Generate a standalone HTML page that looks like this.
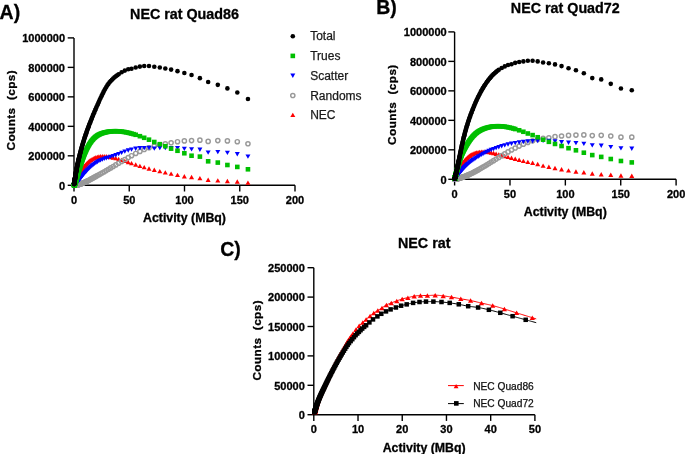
<!DOCTYPE html>
<html><head><meta charset="utf-8"><style>
html,body{margin:0;padding:0;background:#fff;width:685px;height:454px;overflow:hidden}
.w{will-change:transform;width:685px;height:454px}
svg{display:block;filter:blur(0.3px)}
</style></head><body><div class="w">
<svg width="685" height="454" viewBox="0 0 685 454" font-family='"Liberation Sans", sans-serif'>
<rect width="685" height="454" fill="#fff"/>
<text x="-0.4" y="19.4" font-size="19.5" font-weight="bold" text-anchor="start" fill="#000" stroke="#000" stroke-width="0.3" >A)</text>
<text x="184.5" y="18.8" font-size="14.3" font-weight="bold" text-anchor="middle" fill="#000" stroke="#000" stroke-width="0.3" >NEC rat Quad86</text>
<path d="M74 37.9V185.3H295" fill="none" stroke="#000" stroke-width="1.4"/>
<path d="M67.7 185.3H74" stroke="#000" stroke-width="1.4"/>
<text x="65" y="189.6" font-size="11" font-weight="bold" text-anchor="end" fill="#000" stroke="#000" stroke-width="0.3" >0</text>
<path d="M67.7 155.82H74" stroke="#000" stroke-width="1.4"/>
<text x="65" y="160.12" font-size="11" font-weight="bold" text-anchor="end" fill="#000" stroke="#000" stroke-width="0.3" >200000</text>
<path d="M67.7 126.34H74" stroke="#000" stroke-width="1.4"/>
<text x="65" y="130.64" font-size="11" font-weight="bold" text-anchor="end" fill="#000" stroke="#000" stroke-width="0.3" >400000</text>
<path d="M67.7 96.86H74" stroke="#000" stroke-width="1.4"/>
<text x="65" y="101.16" font-size="11" font-weight="bold" text-anchor="end" fill="#000" stroke="#000" stroke-width="0.3" >600000</text>
<path d="M67.7 67.38H74" stroke="#000" stroke-width="1.4"/>
<text x="65" y="71.68" font-size="11" font-weight="bold" text-anchor="end" fill="#000" stroke="#000" stroke-width="0.3" >800000</text>
<path d="M67.7 37.9H74" stroke="#000" stroke-width="1.4"/>
<text x="65" y="42.2" font-size="11" font-weight="bold" text-anchor="end" fill="#000" stroke="#000" stroke-width="0.3" >1000000</text>
<path d="M74 185.3V191.5" stroke="#000" stroke-width="1.4"/>
<text x="74" y="203.7" font-size="11" font-weight="bold" text-anchor="middle" fill="#000" stroke="#000" stroke-width="0.3" >0</text>
<path d="M129.25 185.3V191.5" stroke="#000" stroke-width="1.4"/>
<text x="129.25" y="203.7" font-size="11" font-weight="bold" text-anchor="middle" fill="#000" stroke="#000" stroke-width="0.3" >50</text>
<path d="M184.5 185.3V191.5" stroke="#000" stroke-width="1.4"/>
<text x="184.5" y="203.7" font-size="11" font-weight="bold" text-anchor="middle" fill="#000" stroke="#000" stroke-width="0.3" >100</text>
<path d="M239.75 185.3V191.5" stroke="#000" stroke-width="1.4"/>
<text x="239.75" y="203.7" font-size="11" font-weight="bold" text-anchor="middle" fill="#000" stroke="#000" stroke-width="0.3" >150</text>
<path d="M295 185.3V191.5" stroke="#000" stroke-width="1.4"/>
<text x="295" y="203.7" font-size="11" font-weight="bold" text-anchor="middle" fill="#000" stroke="#000" stroke-width="0.3" >200</text>
<text x="184.5" y="221.7" font-size="12.35" font-weight="bold" text-anchor="middle" fill="#000" stroke="#000" stroke-width="0.3" >Activity (MBq)</text>
<text transform="translate(15.2 110.2) rotate(-90)" font-size="11.8" letter-spacing="0.4" font-weight="bold" text-anchor="middle" stroke="#000" stroke-width="0.3" xml:space="preserve">Counts  (cps)</text>
<path d="M245.45 184.79L250.45 184.79L247.95 180.39Z" fill="#ff0000"/>
<path d="M234.8 183.71L239.8 183.71L237.3 179.31Z" fill="#ff0000"/>
<path d="M224.9 183.2L229.9 183.2L227.4 178.8Z" fill="#ff0000"/>
<path d="M215.3 182.59L220.3 182.59L217.8 178.19Z" fill="#ff0000"/>
<path d="M205.65 181.91L210.65 181.91L208.15 177.51Z" fill="#ff0000"/>
<path d="M197.4 180.32L202.4 180.32L199.9 175.92Z" fill="#ff0000"/>
<path d="M189.05 179.22L194.05 179.22L191.55 174.82Z" fill="#ff0000"/>
<path d="M181.85 178.42L186.85 178.42L184.35 174.02Z" fill="#ff0000"/>
<path d="M175 177.08L180 177.08L177.5 172.68Z" fill="#ff0000"/>
<path d="M168.6 175.82L173.6 175.82L171.1 171.42Z" fill="#ff0000"/>
<path d="M162.8 174.6L167.8 174.6L165.3 170.2Z" fill="#ff0000"/>
<path d="M157.3 173.35L162.3 173.35L159.8 168.95Z" fill="#ff0000"/>
<path d="M151.8 172L156.8 172L154.3 167.6Z" fill="#ff0000"/>
<path d="M146.5 170.66L151.5 170.66L149 166.26Z" fill="#ff0000"/>
<path d="M141.7 169.35L146.7 169.35L144.2 164.95Z" fill="#ff0000"/>
<path d="M137.4 168.09L142.4 168.09L139.9 163.69Z" fill="#ff0000"/>
<path d="M133.2 166.77L138.2 166.77L135.7 162.37Z" fill="#ff0000"/>
<path d="M129 165.36L134 165.36L131.5 160.96Z" fill="#ff0000"/>
<path d="M125.72 164.23L130.72 164.23L128.22 159.83Z" fill="#ff0000"/>
<path d="M122.31 163.08L127.31 163.08L124.81 158.68Z" fill="#ff0000"/>
<path d="M119.12 162.04L124.12 162.04L121.62 157.64Z" fill="#ff0000"/>
<path d="M116.13 161.13L121.13 161.13L118.63 156.73Z" fill="#ff0000"/>
<path d="M113.33 160.35L118.33 160.35L115.83 155.95Z" fill="#ff0000"/>
<path d="M110.7 159.7L115.7 159.7L113.2 155.3Z" fill="#ff0000"/>
<path d="M108.24 159.18L113.24 159.18L110.74 154.78Z" fill="#ff0000"/>
<path d="M105.94 158.78L110.94 158.78L108.44 154.38Z" fill="#ff0000"/>
<path d="M103.77 158.51L108.77 158.51L106.27 154.11Z" fill="#ff0000"/>
<path d="M101.75 158.36L106.75 158.36L104.25 153.96Z" fill="#ff0000"/>
<path d="M99.85 158.34L104.85 158.34L102.35 153.94Z" fill="#ff0000"/>
<path d="M98.07 158.46L103.07 158.46L100.57 154.06Z" fill="#ff0000"/>
<path d="M96.4 158.69L101.4 158.69L98.9 154.29Z" fill="#ff0000"/>
<path d="M94.84 159.04L99.84 159.04L97.34 154.64Z" fill="#ff0000"/>
<path d="M93.37 159.5L98.37 159.5L95.87 155.1Z" fill="#ff0000"/>
<path d="M92 160.04L97 160.04L94.5 155.64Z" fill="#ff0000"/>
<path d="M90.71 160.66L95.71 160.66L93.21 156.26Z" fill="#ff0000"/>
<path d="M89.5 161.35L94.5 161.35L92 156.95Z" fill="#ff0000"/>
<path d="M88.37 162.09L93.37 162.09L90.87 157.69Z" fill="#ff0000"/>
<path d="M87.31 162.87L92.31 162.87L89.81 158.47Z" fill="#ff0000"/>
<path d="M86.32 163.69L91.32 163.69L88.82 159.29Z" fill="#ff0000"/>
<path d="M85.39 164.53L90.39 164.53L87.89 160.13Z" fill="#ff0000"/>
<path d="M84.52 165.38L89.52 165.38L87.02 160.98Z" fill="#ff0000"/>
<path d="M83.7 166.25L88.7 166.25L86.2 161.85Z" fill="#ff0000"/>
<path d="M82.93 167.11L87.93 167.11L85.43 162.71Z" fill="#ff0000"/>
<path d="M82.22 167.97L87.22 167.97L84.72 163.57Z" fill="#ff0000"/>
<path d="M81.54 168.83L86.54 168.83L84.04 164.43Z" fill="#ff0000"/>
<path d="M80.91 169.67L85.91 169.67L83.41 165.27Z" fill="#ff0000"/>
<path d="M80.32 170.49L85.32 170.49L82.82 166.09Z" fill="#ff0000"/>
<path d="M79.77 171.3L84.77 171.3L82.27 166.9Z" fill="#ff0000"/>
<path d="M79.25 172.09L84.25 172.09L81.75 167.69Z" fill="#ff0000"/>
<path d="M78.76 172.85L83.76 172.85L81.26 168.45Z" fill="#ff0000"/>
<path d="M78.31 173.59L83.31 173.59L80.81 169.19Z" fill="#ff0000"/>
<path d="M77.88 174.3L82.88 174.3L80.38 169.9Z" fill="#ff0000"/>
<path d="M77.48 174.98L82.48 174.98L79.98 170.58Z" fill="#ff0000"/>
<path d="M77.1 175.64L82.1 175.64L79.6 171.24Z" fill="#ff0000"/>
<path d="M76.75 176.28L81.75 176.28L79.25 171.88Z" fill="#ff0000"/>
<path d="M76.42 176.88L81.42 176.88L78.92 172.48Z" fill="#ff0000"/>
<path d="M76.11 177.46L81.11 177.46L78.61 173.06Z" fill="#ff0000"/>
<path d="M75.82 178.01L80.82 178.01L78.32 173.61Z" fill="#ff0000"/>
<path d="M75.55 178.54L80.55 178.54L78.05 174.14Z" fill="#ff0000"/>
<path d="M75.3 179.04L80.3 179.04L77.8 174.64Z" fill="#ff0000"/>
<path d="M75.06 179.52L80.06 179.52L77.56 175.12Z" fill="#ff0000"/>
<path d="M74.84 179.98L79.84 179.98L77.34 175.58Z" fill="#ff0000"/>
<path d="M74.63 180.41L79.63 180.41L77.13 176.01Z" fill="#ff0000"/>
<path d="M74.43 180.82L79.43 180.82L76.93 176.42Z" fill="#ff0000"/>
<path d="M74.25 181.2L79.25 181.2L76.75 176.8Z" fill="#ff0000"/>
<path d="M74.07 181.57L79.07 181.57L76.57 177.17Z" fill="#ff0000"/>
<path d="M73.91 181.92L78.91 181.92L76.41 177.52Z" fill="#ff0000"/>
<path d="M73.76 182.25L78.76 182.25L76.26 177.85Z" fill="#ff0000"/>
<path d="M73.62 182.56L78.62 182.56L76.12 178.16Z" fill="#ff0000"/>
<path d="M73.49 182.85L78.49 182.85L75.99 178.45Z" fill="#ff0000"/>
<path d="M73.36 183.13L78.36 183.13L75.86 178.73Z" fill="#ff0000"/>
<path d="M73.24 183.39L78.24 183.39L75.74 178.99Z" fill="#ff0000"/>
<path d="M73.13 183.64L78.13 183.64L75.63 179.24Z" fill="#ff0000"/>
<path d="M73.03 183.87L78.03 183.87L75.53 179.47Z" fill="#ff0000"/>
<path d="M72.94 184.09L77.94 184.09L75.44 179.69Z" fill="#ff0000"/>
<path d="M72.85 184.29L77.85 184.29L75.35 179.89Z" fill="#ff0000"/>
<path d="M72.76 184.49L77.76 184.49L75.26 180.09Z" fill="#ff0000"/>
<path d="M72.68 184.67L77.68 184.67L75.18 180.27Z" fill="#ff0000"/>
<path d="M72.61 184.84L77.61 184.84L75.11 180.44Z" fill="#ff0000"/>
<path d="M72.54 185.01L77.54 185.01L75.04 180.61Z" fill="#ff0000"/>
<path d="M72.47 185.16L77.47 185.16L74.97 180.76Z" fill="#ff0000"/>
<path d="M72.41 185.3L77.41 185.3L74.91 180.9Z" fill="#ff0000"/>
<path d="M72.35 185.44L77.35 185.44L74.85 181.04Z" fill="#ff0000"/>
<path d="M72.3 185.56L77.3 185.56L74.8 181.16Z" fill="#ff0000"/>
<path d="M72.25 185.68L77.25 185.68L74.75 181.28Z" fill="#ff0000"/>
<path d="M72.2 185.79L77.2 185.79L74.7 181.39Z" fill="#ff0000"/>
<path d="M72.16 185.9L77.16 185.9L74.66 181.5Z" fill="#ff0000"/>
<path d="M72.12 186L77.12 186L74.62 181.6Z" fill="#ff0000"/>
<path d="M72.08 186.09L77.08 186.09L74.58 181.69Z" fill="#ff0000"/>
<path d="M72.04 186.18L77.04 186.18L74.54 181.78Z" fill="#ff0000"/>
<path d="M72.01 186.26L77.01 186.26L74.51 181.86Z" fill="#ff0000"/>
<path d="M71.98 186.34L76.98 186.34L74.48 181.94Z" fill="#ff0000"/>
<path d="M71.95 186.41L76.95 186.41L74.45 182.01Z" fill="#ff0000"/>
<path d="M71.92 186.48L76.92 186.48L74.42 182.08Z" fill="#ff0000"/>
<path d="M71.89 186.54L76.89 186.54L74.39 182.14Z" fill="#ff0000"/>
<path d="M71.87 186.6L76.87 186.6L74.37 182.2Z" fill="#ff0000"/>
<path d="M71.84 186.66L76.84 186.66L74.34 182.26Z" fill="#ff0000"/>
<path d="M71.82 186.71L76.82 186.71L74.32 182.31Z" fill="#ff0000"/>
<path d="M71.8 186.76L76.8 186.76L74.3 182.36Z" fill="#ff0000"/>
<path d="M71.78 186.8L76.78 186.8L74.28 182.4Z" fill="#ff0000"/>
<path d="M71.77 186.85L76.77 186.85L74.27 182.45Z" fill="#ff0000"/>
<path d="M71.75 186.89L76.75 186.89L74.25 182.49Z" fill="#ff0000"/>
<path d="M71.73 186.93L76.73 186.93L74.23 182.53Z" fill="#ff0000"/>
<path d="M71.72 186.96L76.72 186.96L74.22 182.56Z" fill="#ff0000"/>
<path d="M71.71 186.99L76.71 186.99L74.21 182.59Z" fill="#ff0000"/>
<path d="M71.69 187.03L76.69 187.03L74.19 182.63Z" fill="#ff0000"/>
<path d="M71.68 187.06L76.68 187.06L74.18 182.66Z" fill="#ff0000"/>
<path d="M71.67 187.08L76.67 187.08L74.17 182.68Z" fill="#ff0000"/>
<circle cx="247.95" cy="143.79" r="2.1" fill="none" stroke="#999" stroke-width="1.45"/>
<circle cx="237.3" cy="141.71" r="2.1" fill="none" stroke="#999" stroke-width="1.45"/>
<circle cx="227.4" cy="140.9" r="2.1" fill="none" stroke="#999" stroke-width="1.45"/>
<circle cx="217.8" cy="140.6" r="2.1" fill="none" stroke="#999" stroke-width="1.45"/>
<circle cx="208.15" cy="141.4" r="2.1" fill="none" stroke="#999" stroke-width="1.45"/>
<circle cx="199.9" cy="140.2" r="2.1" fill="none" stroke="#999" stroke-width="1.45"/>
<circle cx="191.55" cy="140.59" r="2.1" fill="none" stroke="#999" stroke-width="1.45"/>
<circle cx="184.35" cy="140.89" r="2.1" fill="none" stroke="#999" stroke-width="1.45"/>
<circle cx="177.5" cy="141.71" r="2.1" fill="none" stroke="#999" stroke-width="1.45"/>
<circle cx="171.1" cy="142.78" r="2.1" fill="none" stroke="#999" stroke-width="1.45"/>
<circle cx="165.3" cy="143.8" r="2.1" fill="none" stroke="#999" stroke-width="1.45"/>
<circle cx="159.8" cy="144.78" r="2.1" fill="none" stroke="#999" stroke-width="1.45"/>
<circle cx="154.3" cy="146.15" r="2.1" fill="none" stroke="#999" stroke-width="1.45"/>
<circle cx="149" cy="147.76" r="2.1" fill="none" stroke="#999" stroke-width="1.45"/>
<circle cx="144.2" cy="149.54" r="2.1" fill="none" stroke="#999" stroke-width="1.45"/>
<circle cx="139.9" cy="151.42" r="2.1" fill="none" stroke="#999" stroke-width="1.45"/>
<circle cx="135.7" cy="153.48" r="2.1" fill="none" stroke="#999" stroke-width="1.45"/>
<circle cx="131.5" cy="155.71" r="2.1" fill="none" stroke="#999" stroke-width="1.45"/>
<circle cx="128.22" cy="157.55" r="2.1" fill="none" stroke="#999" stroke-width="1.45"/>
<circle cx="124.81" cy="159.53" r="2.1" fill="none" stroke="#999" stroke-width="1.45"/>
<circle cx="121.62" cy="161.42" r="2.1" fill="none" stroke="#999" stroke-width="1.45"/>
<circle cx="118.63" cy="163.21" r="2.1" fill="none" stroke="#999" stroke-width="1.45"/>
<circle cx="115.83" cy="164.89" r="2.1" fill="none" stroke="#999" stroke-width="1.45"/>
<circle cx="113.2" cy="166.46" r="2.1" fill="none" stroke="#999" stroke-width="1.45"/>
<circle cx="110.74" cy="167.92" r="2.1" fill="none" stroke="#999" stroke-width="1.45"/>
<circle cx="108.44" cy="169.28" r="2.1" fill="none" stroke="#999" stroke-width="1.45"/>
<circle cx="106.27" cy="170.54" r="2.1" fill="none" stroke="#999" stroke-width="1.45"/>
<circle cx="104.25" cy="171.71" r="2.1" fill="none" stroke="#999" stroke-width="1.45"/>
<circle cx="102.35" cy="172.79" r="2.1" fill="none" stroke="#999" stroke-width="1.45"/>
<circle cx="100.57" cy="173.8" r="2.1" fill="none" stroke="#999" stroke-width="1.45"/>
<circle cx="98.9" cy="174.74" r="2.1" fill="none" stroke="#999" stroke-width="1.45"/>
<circle cx="97.34" cy="175.61" r="2.1" fill="none" stroke="#999" stroke-width="1.45"/>
<circle cx="95.87" cy="176.42" r="2.1" fill="none" stroke="#999" stroke-width="1.45"/>
<circle cx="94.5" cy="177.18" r="2.1" fill="none" stroke="#999" stroke-width="1.45"/>
<circle cx="93.21" cy="177.88" r="2.1" fill="none" stroke="#999" stroke-width="1.45"/>
<circle cx="92" cy="178.54" r="2.1" fill="none" stroke="#999" stroke-width="1.45"/>
<circle cx="90.87" cy="179.15" r="2.1" fill="none" stroke="#999" stroke-width="1.45"/>
<circle cx="89.81" cy="179.72" r="2.1" fill="none" stroke="#999" stroke-width="1.45"/>
<circle cx="88.82" cy="180.24" r="2.1" fill="none" stroke="#999" stroke-width="1.45"/>
<circle cx="87.89" cy="180.72" r="2.1" fill="none" stroke="#999" stroke-width="1.45"/>
<circle cx="87.02" cy="181.17" r="2.1" fill="none" stroke="#999" stroke-width="1.45"/>
<circle cx="86.2" cy="181.57" r="2.1" fill="none" stroke="#999" stroke-width="1.45"/>
<circle cx="85.43" cy="181.94" r="2.1" fill="none" stroke="#999" stroke-width="1.45"/>
<circle cx="84.72" cy="182.28" r="2.1" fill="none" stroke="#999" stroke-width="1.45"/>
<circle cx="84.04" cy="182.58" r="2.1" fill="none" stroke="#999" stroke-width="1.45"/>
<circle cx="83.41" cy="182.86" r="2.1" fill="none" stroke="#999" stroke-width="1.45"/>
<circle cx="82.82" cy="183.1" r="2.1" fill="none" stroke="#999" stroke-width="1.45"/>
<circle cx="82.27" cy="183.33" r="2.1" fill="none" stroke="#999" stroke-width="1.45"/>
<circle cx="81.75" cy="183.53" r="2.1" fill="none" stroke="#999" stroke-width="1.45"/>
<circle cx="81.26" cy="183.71" r="2.1" fill="none" stroke="#999" stroke-width="1.45"/>
<circle cx="80.81" cy="183.87" r="2.1" fill="none" stroke="#999" stroke-width="1.45"/>
<circle cx="80.38" cy="184.02" r="2.1" fill="none" stroke="#999" stroke-width="1.45"/>
<circle cx="79.98" cy="184.15" r="2.1" fill="none" stroke="#999" stroke-width="1.45"/>
<circle cx="79.6" cy="184.27" r="2.1" fill="none" stroke="#999" stroke-width="1.45"/>
<circle cx="79.25" cy="184.37" r="2.1" fill="none" stroke="#999" stroke-width="1.45"/>
<circle cx="78.92" cy="184.47" r="2.1" fill="none" stroke="#999" stroke-width="1.45"/>
<circle cx="78.61" cy="184.55" r="2.1" fill="none" stroke="#999" stroke-width="1.45"/>
<circle cx="78.32" cy="184.63" r="2.1" fill="none" stroke="#999" stroke-width="1.45"/>
<circle cx="78.05" cy="184.7" r="2.1" fill="none" stroke="#999" stroke-width="1.45"/>
<circle cx="77.8" cy="184.76" r="2.1" fill="none" stroke="#999" stroke-width="1.45"/>
<circle cx="77.56" cy="184.81" r="2.1" fill="none" stroke="#999" stroke-width="1.45"/>
<circle cx="77.34" cy="184.86" r="2.1" fill="none" stroke="#999" stroke-width="1.45"/>
<circle cx="77.13" cy="184.9" r="2.1" fill="none" stroke="#999" stroke-width="1.45"/>
<circle cx="76.93" cy="184.94" r="2.1" fill="none" stroke="#999" stroke-width="1.45"/>
<circle cx="76.75" cy="184.98" r="2.1" fill="none" stroke="#999" stroke-width="1.45"/>
<circle cx="76.57" cy="185.01" r="2.1" fill="none" stroke="#999" stroke-width="1.45"/>
<circle cx="76.41" cy="185.04" r="2.1" fill="none" stroke="#999" stroke-width="1.45"/>
<circle cx="76.26" cy="185.06" r="2.1" fill="none" stroke="#999" stroke-width="1.45"/>
<circle cx="76.12" cy="185.08" r="2.1" fill="none" stroke="#999" stroke-width="1.45"/>
<circle cx="75.99" cy="185.1" r="2.1" fill="none" stroke="#999" stroke-width="1.45"/>
<circle cx="75.86" cy="185.12" r="2.1" fill="none" stroke="#999" stroke-width="1.45"/>
<circle cx="75.74" cy="185.14" r="2.1" fill="none" stroke="#999" stroke-width="1.45"/>
<circle cx="75.63" cy="185.15" r="2.1" fill="none" stroke="#999" stroke-width="1.45"/>
<circle cx="75.53" cy="185.17" r="2.1" fill="none" stroke="#999" stroke-width="1.45"/>
<circle cx="75.44" cy="185.18" r="2.1" fill="none" stroke="#999" stroke-width="1.45"/>
<circle cx="75.35" cy="185.19" r="2.1" fill="none" stroke="#999" stroke-width="1.45"/>
<circle cx="75.26" cy="185.2" r="2.1" fill="none" stroke="#999" stroke-width="1.45"/>
<circle cx="75.18" cy="185.21" r="2.1" fill="none" stroke="#999" stroke-width="1.45"/>
<circle cx="75.11" cy="185.22" r="2.1" fill="none" stroke="#999" stroke-width="1.45"/>
<circle cx="75.04" cy="185.22" r="2.1" fill="none" stroke="#999" stroke-width="1.45"/>
<circle cx="74.97" cy="185.23" r="2.1" fill="none" stroke="#999" stroke-width="1.45"/>
<circle cx="74.91" cy="185.24" r="2.1" fill="none" stroke="#999" stroke-width="1.45"/>
<circle cx="74.85" cy="185.24" r="2.1" fill="none" stroke="#999" stroke-width="1.45"/>
<circle cx="74.8" cy="185.25" r="2.1" fill="none" stroke="#999" stroke-width="1.45"/>
<circle cx="74.75" cy="185.25" r="2.1" fill="none" stroke="#999" stroke-width="1.45"/>
<circle cx="74.7" cy="185.25" r="2.1" fill="none" stroke="#999" stroke-width="1.45"/>
<circle cx="74.66" cy="185.26" r="2.1" fill="none" stroke="#999" stroke-width="1.45"/>
<circle cx="74.62" cy="185.26" r="2.1" fill="none" stroke="#999" stroke-width="1.45"/>
<circle cx="74.58" cy="185.26" r="2.1" fill="none" stroke="#999" stroke-width="1.45"/>
<circle cx="74.54" cy="185.27" r="2.1" fill="none" stroke="#999" stroke-width="1.45"/>
<circle cx="74.51" cy="185.27" r="2.1" fill="none" stroke="#999" stroke-width="1.45"/>
<circle cx="74.48" cy="185.27" r="2.1" fill="none" stroke="#999" stroke-width="1.45"/>
<circle cx="74.45" cy="185.27" r="2.1" fill="none" stroke="#999" stroke-width="1.45"/>
<circle cx="74.42" cy="185.28" r="2.1" fill="none" stroke="#999" stroke-width="1.45"/>
<circle cx="74.39" cy="185.28" r="2.1" fill="none" stroke="#999" stroke-width="1.45"/>
<circle cx="74.37" cy="185.28" r="2.1" fill="none" stroke="#999" stroke-width="1.45"/>
<circle cx="74.34" cy="185.28" r="2.1" fill="none" stroke="#999" stroke-width="1.45"/>
<circle cx="74.32" cy="185.28" r="2.1" fill="none" stroke="#999" stroke-width="1.45"/>
<circle cx="74.3" cy="185.28" r="2.1" fill="none" stroke="#999" stroke-width="1.45"/>
<circle cx="74.28" cy="185.28" r="2.1" fill="none" stroke="#999" stroke-width="1.45"/>
<circle cx="74.27" cy="185.29" r="2.1" fill="none" stroke="#999" stroke-width="1.45"/>
<circle cx="74.25" cy="185.29" r="2.1" fill="none" stroke="#999" stroke-width="1.45"/>
<circle cx="74.23" cy="185.29" r="2.1" fill="none" stroke="#999" stroke-width="1.45"/>
<circle cx="74.22" cy="185.29" r="2.1" fill="none" stroke="#999" stroke-width="1.45"/>
<circle cx="74.21" cy="185.29" r="2.1" fill="none" stroke="#999" stroke-width="1.45"/>
<circle cx="74.19" cy="185.29" r="2.1" fill="none" stroke="#999" stroke-width="1.45"/>
<circle cx="74.18" cy="185.29" r="2.1" fill="none" stroke="#999" stroke-width="1.45"/>
<circle cx="74.17" cy="185.29" r="2.1" fill="none" stroke="#999" stroke-width="1.45"/>
<path d="M245.45 154.39L250.45 154.39L247.95 158.79Z" fill="#0000ff"/>
<path d="M234.8 152.02L239.8 152.02L237.3 156.42Z" fill="#0000ff"/>
<path d="M224.9 150.7L229.9 150.7L227.4 155.1Z" fill="#0000ff"/>
<path d="M215.3 149.9L220.3 149.9L217.8 154.3Z" fill="#0000ff"/>
<path d="M205.65 150.4L210.65 150.4L208.15 154.8Z" fill="#0000ff"/>
<path d="M197.4 147.51L202.4 147.51L199.9 151.91Z" fill="#0000ff"/>
<path d="M189.05 147.21L194.05 147.21L191.55 151.61Z" fill="#0000ff"/>
<path d="M181.85 146.71L186.85 146.71L184.35 151.11Z" fill="#0000ff"/>
<path d="M175 145.9L180 145.9L177.5 150.3Z" fill="#0000ff"/>
<path d="M168.6 145.9L173.6 145.9L171.1 150.3Z" fill="#0000ff"/>
<path d="M162.8 145.9L167.8 145.9L165.3 150.3Z" fill="#0000ff"/>
<path d="M157.3 145.9L162.3 145.9L159.8 150.3Z" fill="#0000ff"/>
<path d="M151.8 146.4L156.8 146.4L154.3 150.8Z" fill="#0000ff"/>
<path d="M146.5 145.87L151.5 145.87L149 150.27Z" fill="#0000ff"/>
<path d="M141.7 145.88L146.7 145.88L144.2 150.28Z" fill="#0000ff"/>
<path d="M137.4 146.12L142.4 146.12L139.9 150.52Z" fill="#0000ff"/>
<path d="M133.2 146.61L138.2 146.61L135.7 151.01Z" fill="#0000ff"/>
<path d="M129 147.42L134 147.42L131.5 151.82Z" fill="#0000ff"/>
<path d="M125.72 148.3L130.72 148.3L128.22 152.7Z" fill="#0000ff"/>
<path d="M122.31 149.46L127.31 149.46L124.81 153.86Z" fill="#0000ff"/>
<path d="M119.12 150.71L124.12 150.71L121.62 155.11Z" fill="#0000ff"/>
<path d="M116.13 151.92L121.13 151.92L118.63 156.32Z" fill="#0000ff"/>
<path d="M113.33 153.03L118.33 153.03L115.83 157.43Z" fill="#0000ff"/>
<path d="M110.7 153.96L115.7 153.96L113.2 158.36Z" fill="#0000ff"/>
<path d="M108.24 154.72L113.24 154.72L110.74 159.12Z" fill="#0000ff"/>
<path d="M105.94 155.4L110.94 155.4L108.44 159.8Z" fill="#0000ff"/>
<path d="M103.77 156.06L108.77 156.06L106.27 160.46Z" fill="#0000ff"/>
<path d="M101.75 156.72L106.75 156.72L104.25 161.12Z" fill="#0000ff"/>
<path d="M99.85 157.41L104.85 157.41L102.35 161.81Z" fill="#0000ff"/>
<path d="M98.07 158.16L103.07 158.16L100.57 162.56Z" fill="#0000ff"/>
<path d="M96.4 158.96L101.4 158.96L98.9 163.36Z" fill="#0000ff"/>
<path d="M94.84 159.82L99.84 159.82L97.34 164.22Z" fill="#0000ff"/>
<path d="M93.37 160.73L98.37 160.73L95.87 165.13Z" fill="#0000ff"/>
<path d="M92 161.68L97 161.68L94.5 166.08Z" fill="#0000ff"/>
<path d="M90.71 162.64L95.71 162.64L93.21 167.04Z" fill="#0000ff"/>
<path d="M89.5 163.62L94.5 163.62L92 168.02Z" fill="#0000ff"/>
<path d="M88.37 164.59L93.37 164.59L90.87 168.99Z" fill="#0000ff"/>
<path d="M87.31 165.55L92.31 165.55L89.81 169.95Z" fill="#0000ff"/>
<path d="M86.32 166.5L91.32 166.5L88.82 170.9Z" fill="#0000ff"/>
<path d="M85.39 167.44L90.39 167.44L87.89 171.84Z" fill="#0000ff"/>
<path d="M84.52 168.35L89.52 168.35L87.02 172.75Z" fill="#0000ff"/>
<path d="M83.7 169.23L88.7 169.23L86.2 173.63Z" fill="#0000ff"/>
<path d="M82.93 170.08L87.93 170.08L85.43 174.48Z" fill="#0000ff"/>
<path d="M82.22 170.91L87.22 170.91L84.72 175.31Z" fill="#0000ff"/>
<path d="M81.54 171.7L86.54 171.7L84.04 176.1Z" fill="#0000ff"/>
<path d="M80.91 172.46L85.91 172.46L83.41 176.86Z" fill="#0000ff"/>
<path d="M80.32 173.19L85.32 173.19L82.82 177.59Z" fill="#0000ff"/>
<path d="M79.77 173.88L84.77 173.88L82.27 178.28Z" fill="#0000ff"/>
<path d="M79.25 174.53L84.25 174.53L81.75 178.93Z" fill="#0000ff"/>
<path d="M78.76 175.14L83.76 175.14L81.26 179.54Z" fill="#0000ff"/>
<path d="M78.31 175.71L83.31 175.71L80.81 180.11Z" fill="#0000ff"/>
<path d="M77.88 176.24L82.88 176.24L80.38 180.64Z" fill="#0000ff"/>
<path d="M77.48 176.74L82.48 176.74L79.98 181.14Z" fill="#0000ff"/>
<path d="M77.1 177.2L82.1 177.2L79.6 181.6Z" fill="#0000ff"/>
<path d="M76.75 177.63L81.75 177.63L79.25 182.03Z" fill="#0000ff"/>
<path d="M76.42 178.03L81.42 178.03L78.92 182.43Z" fill="#0000ff"/>
<path d="M76.11 178.4L81.11 178.4L78.61 182.8Z" fill="#0000ff"/>
<path d="M75.82 178.74L80.82 178.74L78.32 183.14Z" fill="#0000ff"/>
<path d="M75.55 179.06L80.55 179.06L78.05 183.46Z" fill="#0000ff"/>
<path d="M75.3 179.35L80.3 179.35L77.8 183.75Z" fill="#0000ff"/>
<path d="M75.06 179.63L80.06 179.63L77.56 184.03Z" fill="#0000ff"/>
<path d="M74.84 179.88L79.84 179.88L77.34 184.28Z" fill="#0000ff"/>
<path d="M74.63 180.11L79.63 180.11L77.13 184.51Z" fill="#0000ff"/>
<path d="M74.43 180.32L79.43 180.32L76.93 184.72Z" fill="#0000ff"/>
<path d="M74.25 180.52L79.25 180.52L76.75 184.92Z" fill="#0000ff"/>
<path d="M74.07 180.7L79.07 180.7L76.57 185.1Z" fill="#0000ff"/>
<path d="M73.91 180.87L78.91 180.87L76.41 185.27Z" fill="#0000ff"/>
<path d="M73.76 181.03L78.76 181.03L76.26 185.43Z" fill="#0000ff"/>
<path d="M73.62 181.18L78.62 181.18L76.12 185.58Z" fill="#0000ff"/>
<path d="M73.49 181.31L78.49 181.31L75.99 185.71Z" fill="#0000ff"/>
<path d="M73.36 181.43L78.36 181.43L75.86 185.83Z" fill="#0000ff"/>
<path d="M73.24 181.55L78.24 181.55L75.74 185.95Z" fill="#0000ff"/>
<path d="M73.13 181.66L78.13 181.66L75.63 186.06Z" fill="#0000ff"/>
<path d="M73.03 181.76L78.03 181.76L75.53 186.16Z" fill="#0000ff"/>
<path d="M72.94 181.85L77.94 181.85L75.44 186.25Z" fill="#0000ff"/>
<path d="M72.85 181.93L77.85 181.93L75.35 186.33Z" fill="#0000ff"/>
<path d="M72.76 182.01L77.76 182.01L75.26 186.41Z" fill="#0000ff"/>
<path d="M72.68 182.09L77.68 182.09L75.18 186.49Z" fill="#0000ff"/>
<path d="M72.61 182.15L77.61 182.15L75.11 186.55Z" fill="#0000ff"/>
<path d="M72.54 182.22L77.54 182.22L75.04 186.62Z" fill="#0000ff"/>
<path d="M72.47 182.28L77.47 182.28L74.97 186.68Z" fill="#0000ff"/>
<path d="M72.41 182.33L77.41 182.33L74.91 186.73Z" fill="#0000ff"/>
<path d="M72.35 182.38L77.35 182.38L74.85 186.78Z" fill="#0000ff"/>
<path d="M72.3 182.43L77.3 182.43L74.8 186.83Z" fill="#0000ff"/>
<path d="M72.25 182.48L77.25 182.48L74.75 186.88Z" fill="#0000ff"/>
<path d="M72.2 182.52L77.2 182.52L74.7 186.92Z" fill="#0000ff"/>
<path d="M72.16 182.55L77.16 182.55L74.66 186.95Z" fill="#0000ff"/>
<path d="M72.12 182.59L77.12 182.59L74.62 186.99Z" fill="#0000ff"/>
<path d="M72.08 182.62L77.08 182.62L74.58 187.02Z" fill="#0000ff"/>
<path d="M72.04 182.66L77.04 182.66L74.54 187.06Z" fill="#0000ff"/>
<path d="M72.01 182.68L77.01 182.68L74.51 187.08Z" fill="#0000ff"/>
<path d="M71.98 182.71L76.98 182.71L74.48 187.11Z" fill="#0000ff"/>
<path d="M71.95 182.74L76.95 182.74L74.45 187.14Z" fill="#0000ff"/>
<path d="M71.92 182.76L76.92 182.76L74.42 187.16Z" fill="#0000ff"/>
<path d="M71.89 182.78L76.89 182.78L74.39 187.18Z" fill="#0000ff"/>
<path d="M71.87 182.8L76.87 182.8L74.37 187.2Z" fill="#0000ff"/>
<path d="M71.84 182.82L76.84 182.82L74.34 187.22Z" fill="#0000ff"/>
<path d="M71.82 182.84L76.82 182.84L74.32 187.24Z" fill="#0000ff"/>
<path d="M71.8 182.86L76.8 182.86L74.3 187.26Z" fill="#0000ff"/>
<path d="M71.78 182.87L76.78 182.87L74.28 187.27Z" fill="#0000ff"/>
<path d="M71.77 182.89L76.77 182.89L74.27 187.29Z" fill="#0000ff"/>
<path d="M71.75 182.9L76.75 182.9L74.25 187.3Z" fill="#0000ff"/>
<path d="M71.73 182.91L76.73 182.91L74.23 187.31Z" fill="#0000ff"/>
<path d="M71.72 182.93L76.72 182.93L74.22 187.33Z" fill="#0000ff"/>
<path d="M71.71 182.94L76.71 182.94L74.21 187.34Z" fill="#0000ff"/>
<path d="M71.69 182.95L76.69 182.95L74.19 187.35Z" fill="#0000ff"/>
<path d="M71.68 182.96L76.68 182.96L74.18 187.36Z" fill="#0000ff"/>
<path d="M71.67 182.97L76.67 182.97L74.17 187.37Z" fill="#0000ff"/>
<rect x="71.87" y="182.72" width="4.6" height="4.6" fill="#00bf00"/>
<rect x="71.87" y="182.71" width="4.6" height="4.6" fill="#00bf00"/>
<rect x="71.88" y="182.7" width="4.6" height="4.6" fill="#00bf00"/>
<rect x="71.89" y="182.69" width="4.6" height="4.6" fill="#00bf00"/>
<rect x="71.89" y="182.68" width="4.6" height="4.6" fill="#00bf00"/>
<rect x="71.9" y="182.67" width="4.6" height="4.6" fill="#00bf00"/>
<rect x="71.91" y="182.66" width="4.6" height="4.6" fill="#00bf00"/>
<rect x="71.91" y="182.64" width="4.6" height="4.6" fill="#00bf00"/>
<rect x="71.92" y="182.63" width="4.6" height="4.6" fill="#00bf00"/>
<rect x="71.93" y="182.62" width="4.6" height="4.6" fill="#00bf00"/>
<rect x="71.93" y="182.6" width="4.6" height="4.6" fill="#00bf00"/>
<rect x="71.94" y="182.59" width="4.6" height="4.6" fill="#00bf00"/>
<rect x="71.95" y="182.58" width="4.6" height="4.6" fill="#00bf00"/>
<rect x="71.96" y="182.56" width="4.6" height="4.6" fill="#00bf00"/>
<rect x="71.97" y="182.55" width="4.6" height="4.6" fill="#00bf00"/>
<rect x="71.97" y="182.53" width="4.6" height="4.6" fill="#00bf00"/>
<rect x="71.98" y="182.51" width="4.6" height="4.6" fill="#00bf00"/>
<rect x="71.99" y="182.5" width="4.6" height="4.6" fill="#00bf00"/>
<rect x="72" y="182.48" width="4.6" height="4.6" fill="#00bf00"/>
<rect x="72.01" y="182.46" width="4.6" height="4.6" fill="#00bf00"/>
<rect x="72.02" y="182.44" width="4.6" height="4.6" fill="#00bf00"/>
<rect x="72.03" y="182.42" width="4.6" height="4.6" fill="#00bf00"/>
<rect x="72.04" y="182.4" width="4.6" height="4.6" fill="#00bf00"/>
<rect x="72.06" y="182.38" width="4.6" height="4.6" fill="#00bf00"/>
<rect x="72.07" y="182.36" width="4.6" height="4.6" fill="#00bf00"/>
<rect x="72.08" y="182.33" width="4.6" height="4.6" fill="#00bf00"/>
<rect x="72.09" y="182.31" width="4.6" height="4.6" fill="#00bf00"/>
<rect x="72.11" y="182.28" width="4.6" height="4.6" fill="#00bf00"/>
<rect x="72.12" y="182.26" width="4.6" height="4.6" fill="#00bf00"/>
<rect x="72.13" y="182.23" width="4.6" height="4.6" fill="#00bf00"/>
<rect x="72.15" y="182.2" width="4.6" height="4.6" fill="#00bf00"/>
<rect x="72.16" y="182.17" width="4.6" height="4.6" fill="#00bf00"/>
<rect x="72.18" y="182.14" width="4.6" height="4.6" fill="#00bf00"/>
<rect x="72.19" y="182.11" width="4.6" height="4.6" fill="#00bf00"/>
<rect x="72.21" y="182.08" width="4.6" height="4.6" fill="#00bf00"/>
<rect x="72.23" y="182.05" width="4.6" height="4.6" fill="#00bf00"/>
<rect x="72.24" y="182.01" width="4.6" height="4.6" fill="#00bf00"/>
<rect x="72.26" y="181.97" width="4.6" height="4.6" fill="#00bf00"/>
<rect x="72.28" y="181.94" width="4.6" height="4.6" fill="#00bf00"/>
<rect x="72.3" y="181.9" width="4.6" height="4.6" fill="#00bf00"/>
<rect x="72.32" y="181.85" width="4.6" height="4.6" fill="#00bf00"/>
<rect x="72.34" y="181.81" width="4.6" height="4.6" fill="#00bf00"/>
<rect x="72.36" y="181.77" width="4.6" height="4.6" fill="#00bf00"/>
<rect x="72.38" y="181.72" width="4.6" height="4.6" fill="#00bf00"/>
<rect x="72.4" y="181.67" width="4.6" height="4.6" fill="#00bf00"/>
<rect x="72.43" y="181.62" width="4.6" height="4.6" fill="#00bf00"/>
<rect x="72.45" y="181.56" width="4.6" height="4.6" fill="#00bf00"/>
<rect x="72.48" y="181.51" width="4.6" height="4.6" fill="#00bf00"/>
<rect x="72.5" y="181.45" width="4.6" height="4.6" fill="#00bf00"/>
<rect x="72.53" y="181.39" width="4.6" height="4.6" fill="#00bf00"/>
<rect x="72.55" y="181.32" width="4.6" height="4.6" fill="#00bf00"/>
<rect x="72.58" y="181.26" width="4.6" height="4.6" fill="#00bf00"/>
<rect x="72.61" y="181.19" width="4.6" height="4.6" fill="#00bf00"/>
<rect x="72.64" y="181.12" width="4.6" height="4.6" fill="#00bf00"/>
<rect x="72.67" y="181.04" width="4.6" height="4.6" fill="#00bf00"/>
<rect x="72.71" y="180.97" width="4.6" height="4.6" fill="#00bf00"/>
<rect x="72.74" y="180.89" width="4.6" height="4.6" fill="#00bf00"/>
<rect x="72.77" y="180.8" width="4.6" height="4.6" fill="#00bf00"/>
<rect x="72.81" y="180.71" width="4.6" height="4.6" fill="#00bf00"/>
<rect x="72.84" y="180.62" width="4.6" height="4.6" fill="#00bf00"/>
<rect x="72.88" y="180.52" width="4.6" height="4.6" fill="#00bf00"/>
<rect x="72.92" y="180.42" width="4.6" height="4.6" fill="#00bf00"/>
<rect x="72.96" y="180.32" width="4.6" height="4.6" fill="#00bf00"/>
<rect x="73" y="180.21" width="4.6" height="4.6" fill="#00bf00"/>
<rect x="73.05" y="180.09" width="4.6" height="4.6" fill="#00bf00"/>
<rect x="73.09" y="179.97" width="4.6" height="4.6" fill="#00bf00"/>
<rect x="73.14" y="179.85" width="4.6" height="4.6" fill="#00bf00"/>
<rect x="73.18" y="179.72" width="4.6" height="4.6" fill="#00bf00"/>
<rect x="73.23" y="179.59" width="4.6" height="4.6" fill="#00bf00"/>
<rect x="73.28" y="179.44" width="4.6" height="4.6" fill="#00bf00"/>
<rect x="73.33" y="179.3" width="4.6" height="4.6" fill="#00bf00"/>
<rect x="73.39" y="179.14" width="4.6" height="4.6" fill="#00bf00"/>
<rect x="73.44" y="178.98" width="4.6" height="4.6" fill="#00bf00"/>
<rect x="73.5" y="178.81" width="4.6" height="4.6" fill="#00bf00"/>
<rect x="73.56" y="178.63" width="4.6" height="4.6" fill="#00bf00"/>
<rect x="73.62" y="178.45" width="4.6" height="4.6" fill="#00bf00"/>
<rect x="73.69" y="178.26" width="4.6" height="4.6" fill="#00bf00"/>
<rect x="73.75" y="178.06" width="4.6" height="4.6" fill="#00bf00"/>
<rect x="73.82" y="177.85" width="4.6" height="4.6" fill="#00bf00"/>
<rect x="73.89" y="177.63" width="4.6" height="4.6" fill="#00bf00"/>
<rect x="73.96" y="177.4" width="4.6" height="4.6" fill="#00bf00"/>
<rect x="74.04" y="177.16" width="4.6" height="4.6" fill="#00bf00"/>
<rect x="74.11" y="176.92" width="4.6" height="4.6" fill="#00bf00"/>
<rect x="74.19" y="176.66" width="4.6" height="4.6" fill="#00bf00"/>
<rect x="74.27" y="176.39" width="4.6" height="4.6" fill="#00bf00"/>
<rect x="74.36" y="176.11" width="4.6" height="4.6" fill="#00bf00"/>
<rect x="74.45" y="175.82" width="4.6" height="4.6" fill="#00bf00"/>
<rect x="74.54" y="175.51" width="4.6" height="4.6" fill="#00bf00"/>
<rect x="74.63" y="175.2" width="4.6" height="4.6" fill="#00bf00"/>
<rect x="74.73" y="174.87" width="4.6" height="4.6" fill="#00bf00"/>
<rect x="74.83" y="174.53" width="4.6" height="4.6" fill="#00bf00"/>
<rect x="74.93" y="174.17" width="4.6" height="4.6" fill="#00bf00"/>
<rect x="75.04" y="173.8" width="4.6" height="4.6" fill="#00bf00"/>
<rect x="75.15" y="173.41" width="4.6" height="4.6" fill="#00bf00"/>
<rect x="75.26" y="173.02" width="4.6" height="4.6" fill="#00bf00"/>
<rect x="75.38" y="172.61" width="4.6" height="4.6" fill="#00bf00"/>
<rect x="75.5" y="172.19" width="4.6" height="4.6" fill="#00bf00"/>
<rect x="75.62" y="171.74" width="4.6" height="4.6" fill="#00bf00"/>
<rect x="75.75" y="171.29" width="4.6" height="4.6" fill="#00bf00"/>
<rect x="75.89" y="170.81" width="4.6" height="4.6" fill="#00bf00"/>
<rect x="76.02" y="170.33" width="4.6" height="4.6" fill="#00bf00"/>
<rect x="76.17" y="169.83" width="4.6" height="4.6" fill="#00bf00"/>
<rect x="76.31" y="169.32" width="4.6" height="4.6" fill="#00bf00"/>
<rect x="76.47" y="168.79" width="4.6" height="4.6" fill="#00bf00"/>
<rect x="76.62" y="168.26" width="4.6" height="4.6" fill="#00bf00"/>
<rect x="76.79" y="167.7" width="4.6" height="4.6" fill="#00bf00"/>
<rect x="76.95" y="167.14" width="4.6" height="4.6" fill="#00bf00"/>
<rect x="77.13" y="166.55" width="4.6" height="4.6" fill="#00bf00"/>
<rect x="77.3" y="165.97" width="4.6" height="4.6" fill="#00bf00"/>
<rect x="77.49" y="165.35" width="4.6" height="4.6" fill="#00bf00"/>
<rect x="77.68" y="164.74" width="4.6" height="4.6" fill="#00bf00"/>
<rect x="77.88" y="164.1" width="4.6" height="4.6" fill="#00bf00"/>
<rect x="78.08" y="163.46" width="4.6" height="4.6" fill="#00bf00"/>
<rect x="78.29" y="162.78" width="4.6" height="4.6" fill="#00bf00"/>
<rect x="78.51" y="162.12" width="4.6" height="4.6" fill="#00bf00"/>
<rect x="78.73" y="161.41" width="4.6" height="4.6" fill="#00bf00"/>
<rect x="78.96" y="160.72" width="4.6" height="4.6" fill="#00bf00"/>
<rect x="79.21" y="159.99" width="4.6" height="4.6" fill="#00bf00"/>
<rect x="79.45" y="159.27" width="4.6" height="4.6" fill="#00bf00"/>
<rect x="79.71" y="158.51" width="4.6" height="4.6" fill="#00bf00"/>
<rect x="79.97" y="157.76" width="4.6" height="4.6" fill="#00bf00"/>
<rect x="80.25" y="156.98" width="4.6" height="4.6" fill="#00bf00"/>
<rect x="80.52" y="156.21" width="4.6" height="4.6" fill="#00bf00"/>
<rect x="80.82" y="155.4" width="4.6" height="4.6" fill="#00bf00"/>
<rect x="81.11" y="154.61" width="4.6" height="4.6" fill="#00bf00"/>
<rect x="81.43" y="153.78" width="4.6" height="4.6" fill="#00bf00"/>
<rect x="81.74" y="152.97" width="4.6" height="4.6" fill="#00bf00"/>
<rect x="82.08" y="152.13" width="4.6" height="4.6" fill="#00bf00"/>
<rect x="82.42" y="151.3" width="4.6" height="4.6" fill="#00bf00"/>
<rect x="82.78" y="150.44" width="4.6" height="4.6" fill="#00bf00"/>
<rect x="83.13" y="149.6" width="4.6" height="4.6" fill="#00bf00"/>
<rect x="83.52" y="148.73" width="4.6" height="4.6" fill="#00bf00"/>
<rect x="83.9" y="147.89" width="4.6" height="4.6" fill="#00bf00"/>
<rect x="84.31" y="147.02" width="4.6" height="4.6" fill="#00bf00"/>
<rect x="84.72" y="146.18" width="4.6" height="4.6" fill="#00bf00"/>
<rect x="85.15" y="145.31" width="4.6" height="4.6" fill="#00bf00"/>
<rect x="85.59" y="144.48" width="4.6" height="4.6" fill="#00bf00"/>
<rect x="86.06" y="143.63" width="4.6" height="4.6" fill="#00bf00"/>
<rect x="86.52" y="142.82" width="4.6" height="4.6" fill="#00bf00"/>
<rect x="87.02" y="141.99" width="4.6" height="4.6" fill="#00bf00"/>
<rect x="87.51" y="141.2" width="4.6" height="4.6" fill="#00bf00"/>
<rect x="88.04" y="140.39" width="4.6" height="4.6" fill="#00bf00"/>
<rect x="88.57" y="139.63" width="4.6" height="4.6" fill="#00bf00"/>
<rect x="89.14" y="138.87" width="4.6" height="4.6" fill="#00bf00"/>
<rect x="89.7" y="138.14" width="4.6" height="4.6" fill="#00bf00"/>
<rect x="90.31" y="137.42" width="4.6" height="4.6" fill="#00bf00"/>
<rect x="90.91" y="136.75" width="4.6" height="4.6" fill="#00bf00"/>
<rect x="91.55" y="136.07" width="4.6" height="4.6" fill="#00bf00"/>
<rect x="92.2" y="135.45" width="4.6" height="4.6" fill="#00bf00"/>
<rect x="92.88" y="134.84" width="4.6" height="4.6" fill="#00bf00"/>
<rect x="93.57" y="134.27" width="4.6" height="4.6" fill="#00bf00"/>
<rect x="94.3" y="133.72" width="4.6" height="4.6" fill="#00bf00"/>
<rect x="95.04" y="133.23" width="4.6" height="4.6" fill="#00bf00"/>
<rect x="95.82" y="132.74" width="4.6" height="4.6" fill="#00bf00"/>
<rect x="96.6" y="132.31" width="4.6" height="4.6" fill="#00bf00"/>
<rect x="97.43" y="131.9" width="4.6" height="4.6" fill="#00bf00"/>
<rect x="98.27" y="131.53" width="4.6" height="4.6" fill="#00bf00"/>
<rect x="99.16" y="131.18" width="4.6" height="4.6" fill="#00bf00"/>
<rect x="100.05" y="130.87" width="4.6" height="4.6" fill="#00bf00"/>
<rect x="101" y="130.58" width="4.6" height="4.6" fill="#00bf00"/>
<rect x="101.95" y="130.32" width="4.6" height="4.6" fill="#00bf00"/>
<rect x="102.96" y="130.06" width="4.6" height="4.6" fill="#00bf00"/>
<rect x="103.97" y="129.83" width="4.6" height="4.6" fill="#00bf00"/>
<rect x="105.05" y="129.62" width="4.6" height="4.6" fill="#00bf00"/>
<rect x="106.14" y="129.44" width="4.6" height="4.6" fill="#00bf00"/>
<rect x="107.29" y="129.27" width="4.6" height="4.6" fill="#00bf00"/>
<rect x="108.44" y="129.14" width="4.6" height="4.6" fill="#00bf00"/>
<rect x="109.67" y="129.03" width="4.6" height="4.6" fill="#00bf00"/>
<rect x="110.9" y="128.96" width="4.6" height="4.6" fill="#00bf00"/>
<rect x="112.22" y="128.92" width="4.6" height="4.6" fill="#00bf00"/>
<rect x="113.53" y="128.91" width="4.6" height="4.6" fill="#00bf00"/>
<rect x="114.93" y="128.95" width="4.6" height="4.6" fill="#00bf00"/>
<rect x="116.33" y="129.02" width="4.6" height="4.6" fill="#00bf00"/>
<rect x="117.83" y="129.14" width="4.6" height="4.6" fill="#00bf00"/>
<rect x="119.32" y="129.3" width="4.6" height="4.6" fill="#00bf00"/>
<rect x="120.92" y="129.51" width="4.6" height="4.6" fill="#00bf00"/>
<rect x="122.51" y="129.77" width="4.6" height="4.6" fill="#00bf00"/>
<rect x="124.22" y="130.09" width="4.6" height="4.6" fill="#00bf00"/>
<rect x="125.92" y="130.45" width="4.6" height="4.6" fill="#00bf00"/>
<rect x="127.56" y="130.84" width="4.6" height="4.6" fill="#00bf00"/>
<rect x="129.2" y="131.26" width="4.6" height="4.6" fill="#00bf00"/>
<rect x="131.3" y="131.85" width="4.6" height="4.6" fill="#00bf00"/>
<rect x="133.4" y="132.49" width="4.6" height="4.6" fill="#00bf00"/>
<rect x="137.6" y="133.9" width="4.6" height="4.6" fill="#00bf00"/>
<rect x="141.9" y="135.49" width="4.6" height="4.6" fill="#00bf00"/>
<rect x="146.7" y="137.38" width="4.6" height="4.6" fill="#00bf00"/>
<rect x="152" y="139.7" width="4.6" height="4.6" fill="#00bf00"/>
<rect x="157.5" y="141.88" width="4.6" height="4.6" fill="#00bf00"/>
<rect x="163" y="143.9" width="4.6" height="4.6" fill="#00bf00"/>
<rect x="168.8" y="146.34" width="4.6" height="4.6" fill="#00bf00"/>
<rect x="175.2" y="148.47" width="4.6" height="4.6" fill="#00bf00"/>
<rect x="182.05" y="150.95" width="4.6" height="4.6" fill="#00bf00"/>
<rect x="189.25" y="153.42" width="4.6" height="4.6" fill="#00bf00"/>
<rect x="197.6" y="154.32" width="4.6" height="4.6" fill="#00bf00"/>
<rect x="205.85" y="159.01" width="4.6" height="4.6" fill="#00bf00"/>
<rect x="215.5" y="160.28" width="4.6" height="4.6" fill="#00bf00"/>
<rect x="225.1" y="162.7" width="4.6" height="4.6" fill="#00bf00"/>
<rect x="235" y="164.62" width="4.6" height="4.6" fill="#00bf00"/>
<rect x="245.65" y="166.99" width="4.6" height="4.6" fill="#00bf00"/>
<circle cx="74.17" cy="184.06" r="2.3" fill="#000"/>
<circle cx="74.17" cy="184.02" r="2.3" fill="#000"/>
<circle cx="74.18" cy="183.98" r="2.3" fill="#000"/>
<circle cx="74.19" cy="183.93" r="2.3" fill="#000"/>
<circle cx="74.19" cy="183.89" r="2.3" fill="#000"/>
<circle cx="74.2" cy="183.84" r="2.3" fill="#000"/>
<circle cx="74.21" cy="183.8" r="2.3" fill="#000"/>
<circle cx="74.21" cy="183.75" r="2.3" fill="#000"/>
<circle cx="74.22" cy="183.7" r="2.3" fill="#000"/>
<circle cx="74.23" cy="183.64" r="2.3" fill="#000"/>
<circle cx="74.23" cy="183.59" r="2.3" fill="#000"/>
<circle cx="74.24" cy="183.54" r="2.3" fill="#000"/>
<circle cx="74.25" cy="183.48" r="2.3" fill="#000"/>
<circle cx="74.26" cy="183.42" r="2.3" fill="#000"/>
<circle cx="74.27" cy="183.36" r="2.3" fill="#000"/>
<circle cx="74.27" cy="183.3" r="2.3" fill="#000"/>
<circle cx="74.28" cy="183.23" r="2.3" fill="#000"/>
<circle cx="74.29" cy="183.16" r="2.3" fill="#000"/>
<circle cx="74.3" cy="183.1" r="2.3" fill="#000"/>
<circle cx="74.31" cy="183.02" r="2.3" fill="#000"/>
<circle cx="74.32" cy="182.95" r="2.3" fill="#000"/>
<circle cx="74.33" cy="182.88" r="2.3" fill="#000"/>
<circle cx="74.34" cy="182.8" r="2.3" fill="#000"/>
<circle cx="74.36" cy="182.72" r="2.3" fill="#000"/>
<circle cx="74.37" cy="182.64" r="2.3" fill="#000"/>
<circle cx="74.38" cy="182.55" r="2.3" fill="#000"/>
<circle cx="74.39" cy="182.46" r="2.3" fill="#000"/>
<circle cx="74.41" cy="182.37" r="2.3" fill="#000"/>
<circle cx="74.42" cy="182.28" r="2.3" fill="#000"/>
<circle cx="74.43" cy="182.18" r="2.3" fill="#000"/>
<circle cx="74.45" cy="182.08" r="2.3" fill="#000"/>
<circle cx="74.46" cy="181.98" r="2.3" fill="#000"/>
<circle cx="74.48" cy="181.87" r="2.3" fill="#000"/>
<circle cx="74.49" cy="181.76" r="2.3" fill="#000"/>
<circle cx="74.51" cy="181.65" r="2.3" fill="#000"/>
<circle cx="74.53" cy="181.53" r="2.3" fill="#000"/>
<circle cx="74.54" cy="181.42" r="2.3" fill="#000"/>
<circle cx="74.56" cy="181.29" r="2.3" fill="#000"/>
<circle cx="74.58" cy="181.17" r="2.3" fill="#000"/>
<circle cx="74.6" cy="181.03" r="2.3" fill="#000"/>
<circle cx="74.62" cy="180.9" r="2.3" fill="#000"/>
<circle cx="74.64" cy="180.76" r="2.3" fill="#000"/>
<circle cx="74.66" cy="180.62" r="2.3" fill="#000"/>
<circle cx="74.68" cy="180.47" r="2.3" fill="#000"/>
<circle cx="74.7" cy="180.32" r="2.3" fill="#000"/>
<circle cx="74.73" cy="180.16" r="2.3" fill="#000"/>
<circle cx="74.75" cy="180.01" r="2.3" fill="#000"/>
<circle cx="74.78" cy="179.84" r="2.3" fill="#000"/>
<circle cx="74.8" cy="179.67" r="2.3" fill="#000"/>
<circle cx="74.83" cy="179.49" r="2.3" fill="#000"/>
<circle cx="74.85" cy="179.32" r="2.3" fill="#000"/>
<circle cx="74.88" cy="179.13" r="2.3" fill="#000"/>
<circle cx="74.91" cy="178.94" r="2.3" fill="#000"/>
<circle cx="74.94" cy="178.74" r="2.3" fill="#000"/>
<circle cx="74.97" cy="178.54" r="2.3" fill="#000"/>
<circle cx="75.01" cy="178.33" r="2.3" fill="#000"/>
<circle cx="75.04" cy="178.12" r="2.3" fill="#000"/>
<circle cx="75.07" cy="177.9" r="2.3" fill="#000"/>
<circle cx="75.11" cy="177.68" r="2.3" fill="#000"/>
<circle cx="75.14" cy="177.44" r="2.3" fill="#000"/>
<circle cx="75.18" cy="177.21" r="2.3" fill="#000"/>
<circle cx="75.22" cy="176.96" r="2.3" fill="#000"/>
<circle cx="75.26" cy="176.71" r="2.3" fill="#000"/>
<circle cx="75.3" cy="176.45" r="2.3" fill="#000"/>
<circle cx="75.35" cy="176.19" r="2.3" fill="#000"/>
<circle cx="75.39" cy="175.91" r="2.3" fill="#000"/>
<circle cx="75.44" cy="175.64" r="2.3" fill="#000"/>
<circle cx="75.48" cy="175.35" r="2.3" fill="#000"/>
<circle cx="75.53" cy="175.06" r="2.3" fill="#000"/>
<circle cx="75.58" cy="174.75" r="2.3" fill="#000"/>
<circle cx="75.63" cy="174.44" r="2.3" fill="#000"/>
<circle cx="75.69" cy="174.12" r="2.3" fill="#000"/>
<circle cx="75.74" cy="173.8" r="2.3" fill="#000"/>
<circle cx="75.8" cy="173.46" r="2.3" fill="#000"/>
<circle cx="75.86" cy="173.12" r="2.3" fill="#000"/>
<circle cx="75.92" cy="172.77" r="2.3" fill="#000"/>
<circle cx="75.99" cy="172.41" r="2.3" fill="#000"/>
<circle cx="76.05" cy="172.04" r="2.3" fill="#000"/>
<circle cx="76.12" cy="171.67" r="2.3" fill="#000"/>
<circle cx="76.19" cy="171.28" r="2.3" fill="#000"/>
<circle cx="76.26" cy="170.89" r="2.3" fill="#000"/>
<circle cx="76.34" cy="170.48" r="2.3" fill="#000"/>
<circle cx="76.41" cy="170.07" r="2.3" fill="#000"/>
<circle cx="76.49" cy="169.64" r="2.3" fill="#000"/>
<circle cx="76.57" cy="169.21" r="2.3" fill="#000"/>
<circle cx="76.66" cy="168.76" r="2.3" fill="#000"/>
<circle cx="76.75" cy="168.32" r="2.3" fill="#000"/>
<circle cx="76.84" cy="167.85" r="2.3" fill="#000"/>
<circle cx="76.93" cy="167.38" r="2.3" fill="#000"/>
<circle cx="77.03" cy="166.89" r="2.3" fill="#000"/>
<circle cx="77.13" cy="166.41" r="2.3" fill="#000"/>
<circle cx="77.23" cy="165.9" r="2.3" fill="#000"/>
<circle cx="77.34" cy="165.39" r="2.3" fill="#000"/>
<circle cx="77.45" cy="164.86" r="2.3" fill="#000"/>
<circle cx="77.56" cy="164.33" r="2.3" fill="#000"/>
<circle cx="77.68" cy="163.77" r="2.3" fill="#000"/>
<circle cx="77.8" cy="163.22" r="2.3" fill="#000"/>
<circle cx="77.92" cy="162.64" r="2.3" fill="#000"/>
<circle cx="78.05" cy="162.07" r="2.3" fill="#000"/>
<circle cx="78.19" cy="161.47" r="2.3" fill="#000"/>
<circle cx="78.32" cy="160.87" r="2.3" fill="#000"/>
<circle cx="78.47" cy="160.24" r="2.3" fill="#000"/>
<circle cx="78.61" cy="159.62" r="2.3" fill="#000"/>
<circle cx="78.77" cy="158.96" r="2.3" fill="#000"/>
<circle cx="78.92" cy="158.31" r="2.3" fill="#000"/>
<circle cx="79.09" cy="157.62" r="2.3" fill="#000"/>
<circle cx="79.25" cy="156.94" r="2.3" fill="#000"/>
<circle cx="79.43" cy="156.22" r="2.3" fill="#000"/>
<circle cx="79.6" cy="155.51" r="2.3" fill="#000"/>
<circle cx="79.79" cy="154.76" r="2.3" fill="#000"/>
<circle cx="79.98" cy="154.02" r="2.3" fill="#000"/>
<circle cx="80.18" cy="153.24" r="2.3" fill="#000"/>
<circle cx="80.38" cy="152.46" r="2.3" fill="#000"/>
<circle cx="80.59" cy="151.64" r="2.3" fill="#000"/>
<circle cx="80.81" cy="150.84" r="2.3" fill="#000"/>
<circle cx="81.03" cy="149.99" r="2.3" fill="#000"/>
<circle cx="81.26" cy="149.15" r="2.3" fill="#000"/>
<circle cx="81.51" cy="148.26" r="2.3" fill="#000"/>
<circle cx="81.75" cy="147.39" r="2.3" fill="#000"/>
<circle cx="82.01" cy="146.47" r="2.3" fill="#000"/>
<circle cx="82.27" cy="145.56" r="2.3" fill="#000"/>
<circle cx="82.55" cy="144.61" r="2.3" fill="#000"/>
<circle cx="82.82" cy="143.67" r="2.3" fill="#000"/>
<circle cx="83.12" cy="142.68" r="2.3" fill="#000"/>
<circle cx="83.41" cy="141.71" r="2.3" fill="#000"/>
<circle cx="83.73" cy="140.69" r="2.3" fill="#000"/>
<circle cx="84.04" cy="139.68" r="2.3" fill="#000"/>
<circle cx="84.38" cy="138.62" r="2.3" fill="#000"/>
<circle cx="84.72" cy="137.58" r="2.3" fill="#000"/>
<circle cx="85.08" cy="136.48" r="2.3" fill="#000"/>
<circle cx="85.43" cy="135.4" r="2.3" fill="#000"/>
<circle cx="85.82" cy="134.27" r="2.3" fill="#000"/>
<circle cx="86.2" cy="133.15" r="2.3" fill="#000"/>
<circle cx="86.61" cy="131.98" r="2.3" fill="#000"/>
<circle cx="87.02" cy="130.83" r="2.3" fill="#000"/>
<circle cx="87.45" cy="129.61" r="2.3" fill="#000"/>
<circle cx="87.89" cy="128.42" r="2.3" fill="#000"/>
<circle cx="88.36" cy="127.16" r="2.3" fill="#000"/>
<circle cx="88.82" cy="125.92" r="2.3" fill="#000"/>
<circle cx="89.32" cy="124.62" r="2.3" fill="#000"/>
<circle cx="89.81" cy="123.34" r="2.3" fill="#000"/>
<circle cx="90.34" cy="121.98" r="2.3" fill="#000"/>
<circle cx="90.87" cy="120.64" r="2.3" fill="#000"/>
<circle cx="91.44" cy="119.22" r="2.3" fill="#000"/>
<circle cx="92" cy="117.82" r="2.3" fill="#000"/>
<circle cx="92.61" cy="116.34" r="2.3" fill="#000"/>
<circle cx="93.21" cy="114.87" r="2.3" fill="#000"/>
<circle cx="93.85" cy="113.32" r="2.3" fill="#000"/>
<circle cx="94.5" cy="111.78" r="2.3" fill="#000"/>
<circle cx="95.18" cy="110.16" r="2.3" fill="#000"/>
<circle cx="95.87" cy="108.56" r="2.3" fill="#000"/>
<circle cx="96.6" cy="106.87" r="2.3" fill="#000"/>
<circle cx="97.34" cy="105.2" r="2.3" fill="#000"/>
<circle cx="98.12" cy="103.43" r="2.3" fill="#000"/>
<circle cx="98.9" cy="101.69" r="2.3" fill="#000"/>
<circle cx="99.73" cy="99.85" r="2.3" fill="#000"/>
<circle cx="100.57" cy="98.03" r="2.3" fill="#000"/>
<circle cx="101.46" cy="96.14" r="2.3" fill="#000"/>
<circle cx="102.35" cy="94.29" r="2.3" fill="#000"/>
<circle cx="103.3" cy="92.39" r="2.3" fill="#000"/>
<circle cx="104.25" cy="90.57" r="2.3" fill="#000"/>
<circle cx="105.26" cy="88.74" r="2.3" fill="#000"/>
<circle cx="106.27" cy="87.03" r="2.3" fill="#000"/>
<circle cx="107.35" cy="85.36" r="2.3" fill="#000"/>
<circle cx="108.44" cy="83.83" r="2.3" fill="#000"/>
<circle cx="109.59" cy="82.35" r="2.3" fill="#000"/>
<circle cx="110.74" cy="81.01" r="2.3" fill="#000"/>
<circle cx="111.97" cy="79.71" r="2.3" fill="#000"/>
<circle cx="113.2" cy="78.52" r="2.3" fill="#000"/>
<circle cx="114.52" cy="77.35" r="2.3" fill="#000"/>
<circle cx="115.83" cy="76.27" r="2.3" fill="#000"/>
<circle cx="117.23" cy="75.19" r="2.3" fill="#000"/>
<circle cx="118.63" cy="74.19" r="2.3" fill="#000"/>
<circle cx="121.62" cy="72.29" r="2.3" fill="#000"/>
<circle cx="124.81" cy="70.61" r="2.3" fill="#000"/>
<circle cx="128.22" cy="69.18" r="2.3" fill="#000"/>
<circle cx="131.5" cy="68.7" r="2.3" fill="#000"/>
<circle cx="135.7" cy="67.5" r="2.3" fill="#000"/>
<circle cx="139.9" cy="66.6" r="2.3" fill="#000"/>
<circle cx="144.2" cy="66" r="2.3" fill="#000"/>
<circle cx="149" cy="66" r="2.3" fill="#000"/>
<circle cx="154.3" cy="66.8" r="2.3" fill="#000"/>
<circle cx="159.8" cy="67.5" r="2.3" fill="#000"/>
<circle cx="165.3" cy="68.5" r="2.3" fill="#000"/>
<circle cx="171.1" cy="69.58" r="2.3" fill="#000"/>
<circle cx="177.5" cy="71.13" r="2.3" fill="#000"/>
<circle cx="184.35" cy="72.96" r="2.3" fill="#000"/>
<circle cx="191.55" cy="75.05" r="2.3" fill="#000"/>
<circle cx="199.9" cy="78.16" r="2.3" fill="#000"/>
<circle cx="208.15" cy="81.98" r="2.3" fill="#000"/>
<circle cx="217.8" cy="84.83" r="2.3" fill="#000"/>
<circle cx="227.4" cy="88.4" r="2.3" fill="#000"/>
<circle cx="237.3" cy="92.55" r="2.3" fill="#000"/>
<circle cx="247.95" cy="99.06" r="2.3" fill="#000"/>
<text x="376.2" y="14" font-size="19.5" font-weight="bold" text-anchor="start" fill="#000" stroke="#000" stroke-width="0.3" >B)</text>
<text x="565.3" y="12.7" font-size="14.3" font-weight="bold" text-anchor="middle" fill="#000" stroke="#000" stroke-width="0.3" >NEC rat Quad72</text>
<path d="M454.6 31.9V179.3H676.1" fill="none" stroke="#000" stroke-width="1.4"/>
<path d="M448.3 179.3H454.6" stroke="#000" stroke-width="1.4"/>
<text x="446.7" y="183.6" font-size="11" font-weight="bold" text-anchor="end" fill="#000" stroke="#000" stroke-width="0.3" >0</text>
<path d="M448.3 149.82H454.6" stroke="#000" stroke-width="1.4"/>
<text x="446.7" y="154.12" font-size="11" font-weight="bold" text-anchor="end" fill="#000" stroke="#000" stroke-width="0.3" >200000</text>
<path d="M448.3 120.34H454.6" stroke="#000" stroke-width="1.4"/>
<text x="446.7" y="124.64" font-size="11" font-weight="bold" text-anchor="end" fill="#000" stroke="#000" stroke-width="0.3" >400000</text>
<path d="M448.3 90.86H454.6" stroke="#000" stroke-width="1.4"/>
<text x="446.7" y="95.16" font-size="11" font-weight="bold" text-anchor="end" fill="#000" stroke="#000" stroke-width="0.3" >600000</text>
<path d="M448.3 61.38H454.6" stroke="#000" stroke-width="1.4"/>
<text x="446.7" y="65.68" font-size="11" font-weight="bold" text-anchor="end" fill="#000" stroke="#000" stroke-width="0.3" >800000</text>
<path d="M448.3 31.9H454.6" stroke="#000" stroke-width="1.4"/>
<text x="446.7" y="36.2" font-size="11" font-weight="bold" text-anchor="end" fill="#000" stroke="#000" stroke-width="0.3" >1000000</text>
<path d="M454.6 179.3V185.5" stroke="#000" stroke-width="1.4"/>
<text x="454.6" y="197.7" font-size="11" font-weight="bold" text-anchor="middle" fill="#000" stroke="#000" stroke-width="0.3" >0</text>
<path d="M509.98 179.3V185.5" stroke="#000" stroke-width="1.4"/>
<text x="509.98" y="197.7" font-size="11" font-weight="bold" text-anchor="middle" fill="#000" stroke="#000" stroke-width="0.3" >50</text>
<path d="M565.35 179.3V185.5" stroke="#000" stroke-width="1.4"/>
<text x="565.35" y="197.7" font-size="11" font-weight="bold" text-anchor="middle" fill="#000" stroke="#000" stroke-width="0.3" >100</text>
<path d="M620.73 179.3V185.5" stroke="#000" stroke-width="1.4"/>
<text x="620.73" y="197.7" font-size="11" font-weight="bold" text-anchor="middle" fill="#000" stroke="#000" stroke-width="0.3" >150</text>
<path d="M676.1 179.3V185.5" stroke="#000" stroke-width="1.4"/>
<text x="676.1" y="197.7" font-size="11" font-weight="bold" text-anchor="middle" fill="#000" stroke="#000" stroke-width="0.3" >200</text>
<text x="565.3" y="215.7" font-size="12.35" font-weight="bold" text-anchor="middle" fill="#000" stroke="#000" stroke-width="0.3" >Activity (MBq)</text>
<text transform="translate(395.6 104.6) rotate(-90)" font-size="11.8" letter-spacing="0.4" font-weight="bold" text-anchor="middle" stroke="#000" stroke-width="0.3" xml:space="preserve">Counts  (cps)</text>
<path d="M629.28 178L634.28 178L631.78 173.6Z" fill="#ff0000"/>
<path d="M618.44 177.7L623.44 177.7L620.94 173.3Z" fill="#ff0000"/>
<path d="M608.27 177L613.27 177L610.77 172.6Z" fill="#ff0000"/>
<path d="M598.72 176.4L603.72 176.4L601.22 172Z" fill="#ff0000"/>
<path d="M589.76 175.7L594.76 175.7L592.26 171.3Z" fill="#ff0000"/>
<path d="M581.34 174.5L586.34 174.5L583.84 170.1Z" fill="#ff0000"/>
<path d="M573.44 173.7L578.44 173.7L575.94 169.3Z" fill="#ff0000"/>
<path d="M566.02 172.6L571.02 172.6L568.52 168.2Z" fill="#ff0000"/>
<path d="M559.05 171.51L564.05 171.51L561.55 167.11Z" fill="#ff0000"/>
<path d="M552.51 170.22L557.51 170.22L555.01 165.82Z" fill="#ff0000"/>
<path d="M546.37 168.91L551.37 168.91L548.87 164.51Z" fill="#ff0000"/>
<path d="M540.6 167.85L545.6 167.85L543.1 163.45Z" fill="#ff0000"/>
<path d="M535.19 166.23L540.19 166.23L537.69 161.83Z" fill="#ff0000"/>
<path d="M530.11 164.9L535.11 164.9L532.61 160.5Z" fill="#ff0000"/>
<path d="M525.34 164.12L530.34 164.12L527.84 159.72Z" fill="#ff0000"/>
<path d="M520.86 163.03L525.86 163.03L523.36 158.63Z" fill="#ff0000"/>
<path d="M516.66 161.97L521.66 161.97L519.16 157.57Z" fill="#ff0000"/>
<path d="M512.71 160.96L517.71 160.96L515.21 156.56Z" fill="#ff0000"/>
<path d="M509 160L514 160L511.5 155.6Z" fill="#ff0000"/>
<path d="M505.52 159.09L510.52 159.09L508.02 154.69Z" fill="#ff0000"/>
<path d="M502.26 158.22L507.26 158.22L504.76 153.82Z" fill="#ff0000"/>
<path d="M499.19 157.39L504.19 157.39L501.69 152.99Z" fill="#ff0000"/>
<path d="M496.31 156.62L501.31 156.62L498.81 152.22Z" fill="#ff0000"/>
<path d="M493.61 155.89L498.61 155.89L496.11 151.49Z" fill="#ff0000"/>
<path d="M491.07 155.26L496.07 155.26L493.57 150.86Z" fill="#ff0000"/>
<path d="M488.69 154.72L493.69 154.72L491.19 150.32Z" fill="#ff0000"/>
<path d="M486.45 154.31L491.45 154.31L488.95 149.91Z" fill="#ff0000"/>
<path d="M484.35 154.02L489.35 154.02L486.85 149.62Z" fill="#ff0000"/>
<path d="M482.38 153.86L487.38 153.86L484.88 149.46Z" fill="#ff0000"/>
<path d="M480.52 153.81L485.52 153.81L483.02 149.41Z" fill="#ff0000"/>
<path d="M478.79 153.88L483.79 153.88L481.29 149.48Z" fill="#ff0000"/>
<path d="M477.15 154.04L482.15 154.04L479.65 149.64Z" fill="#ff0000"/>
<path d="M475.62 154.3L480.62 154.3L478.12 149.9Z" fill="#ff0000"/>
<path d="M474.18 154.64L479.18 154.64L476.68 150.24Z" fill="#ff0000"/>
<path d="M472.83 155.05L477.83 155.05L475.33 150.65Z" fill="#ff0000"/>
<path d="M471.57 155.52L476.57 155.52L474.07 151.12Z" fill="#ff0000"/>
<path d="M470.38 156.04L475.38 156.04L472.88 151.64Z" fill="#ff0000"/>
<path d="M469.26 156.62L474.26 156.62L471.76 152.22Z" fill="#ff0000"/>
<path d="M468.21 157.25L473.21 157.25L470.71 152.85Z" fill="#ff0000"/>
<path d="M467.22 157.92L472.22 157.92L469.72 153.52Z" fill="#ff0000"/>
<path d="M466.3 158.61L471.3 158.61L468.8 154.21Z" fill="#ff0000"/>
<path d="M465.43 159.34L470.43 159.34L467.93 154.94Z" fill="#ff0000"/>
<path d="M464.62 160.08L469.62 160.08L467.12 155.68Z" fill="#ff0000"/>
<path d="M463.85 160.84L468.85 160.84L466.35 156.44Z" fill="#ff0000"/>
<path d="M463.13 161.6L468.13 161.6L465.63 157.2Z" fill="#ff0000"/>
<path d="M462.46 162.37L467.46 162.37L464.96 157.97Z" fill="#ff0000"/>
<path d="M461.82 163.14L466.82 163.14L464.32 158.74Z" fill="#ff0000"/>
<path d="M461.23 163.9L466.23 163.9L463.73 159.5Z" fill="#ff0000"/>
<path d="M460.67 164.65L465.67 164.65L463.17 160.25Z" fill="#ff0000"/>
<path d="M460.15 165.39L465.15 165.39L462.65 160.99Z" fill="#ff0000"/>
<path d="M459.65 166.12L464.65 166.12L462.15 161.72Z" fill="#ff0000"/>
<path d="M459.19 166.83L464.19 166.83L461.69 162.43Z" fill="#ff0000"/>
<path d="M458.76 167.52L463.76 167.52L461.26 163.12Z" fill="#ff0000"/>
<path d="M458.35 168.19L463.35 168.19L460.85 163.79Z" fill="#ff0000"/>
<path d="M457.97 168.84L462.97 168.84L460.47 164.44Z" fill="#ff0000"/>
<path d="M457.61 169.47L462.61 169.47L460.11 165.07Z" fill="#ff0000"/>
<path d="M457.27 170.08L462.27 170.08L459.77 165.68Z" fill="#ff0000"/>
<path d="M456.96 170.66L461.96 170.66L459.46 166.26Z" fill="#ff0000"/>
<path d="M456.66 171.22L461.66 171.22L459.16 166.82Z" fill="#ff0000"/>
<path d="M456.38 171.76L461.38 171.76L458.88 167.36Z" fill="#ff0000"/>
<path d="M456.12 172.28L461.12 172.28L458.62 167.88Z" fill="#ff0000"/>
<path d="M455.87 172.77L460.87 172.77L458.37 168.37Z" fill="#ff0000"/>
<path d="M455.64 173.24L460.64 173.24L458.14 168.84Z" fill="#ff0000"/>
<path d="M455.43 173.69L460.43 173.69L457.93 169.29Z" fill="#ff0000"/>
<path d="M455.22 174.12L460.22 174.12L457.72 169.72Z" fill="#ff0000"/>
<path d="M455.03 174.52L460.03 174.52L457.53 170.12Z" fill="#ff0000"/>
<path d="M454.85 174.91L459.85 174.91L457.35 170.51Z" fill="#ff0000"/>
<path d="M454.68 175.28L459.68 175.28L457.18 170.88Z" fill="#ff0000"/>
<path d="M454.53 175.63L459.53 175.63L457.03 171.23Z" fill="#ff0000"/>
<path d="M454.38 175.96L459.38 175.96L456.88 171.56Z" fill="#ff0000"/>
<path d="M454.24 176.28L459.24 176.28L456.74 171.88Z" fill="#ff0000"/>
<path d="M454.11 176.57L459.11 176.57L456.61 172.17Z" fill="#ff0000"/>
<path d="M453.99 176.86L458.99 176.86L456.49 172.46Z" fill="#ff0000"/>
<path d="M453.87 177.12L458.87 177.12L456.37 172.72Z" fill="#ff0000"/>
<path d="M453.76 177.38L458.76 177.38L456.26 172.98Z" fill="#ff0000"/>
<path d="M453.66 177.62L458.66 177.62L456.16 173.22Z" fill="#ff0000"/>
<path d="M453.56 177.84L458.56 177.84L456.06 173.44Z" fill="#ff0000"/>
<path d="M453.48 178.06L458.48 178.06L455.98 173.66Z" fill="#ff0000"/>
<path d="M453.39 178.26L458.39 178.26L455.89 173.86Z" fill="#ff0000"/>
<path d="M453.31 178.45L458.31 178.45L455.81 174.05Z" fill="#ff0000"/>
<path d="M453.24 178.63L458.24 178.63L455.74 174.23Z" fill="#ff0000"/>
<path d="M453.17 178.8L458.17 178.8L455.67 174.4Z" fill="#ff0000"/>
<path d="M453.1 178.96L458.1 178.96L455.6 174.56Z" fill="#ff0000"/>
<path d="M453.04 179.11L458.04 179.11L455.54 174.71Z" fill="#ff0000"/>
<path d="M452.98 179.25L457.98 179.25L455.48 174.85Z" fill="#ff0000"/>
<path d="M452.93 179.38L457.93 179.38L455.43 174.98Z" fill="#ff0000"/>
<path d="M452.88 179.51L457.88 179.51L455.38 175.11Z" fill="#ff0000"/>
<path d="M452.83 179.63L457.83 179.63L455.33 175.23Z" fill="#ff0000"/>
<path d="M452.79 179.74L457.79 179.74L455.29 175.34Z" fill="#ff0000"/>
<path d="M452.74 179.85L457.74 179.85L455.24 175.45Z" fill="#ff0000"/>
<path d="M452.71 179.95L457.71 179.95L455.21 175.55Z" fill="#ff0000"/>
<path d="M452.67 180.04L457.67 180.04L455.17 175.64Z" fill="#ff0000"/>
<path d="M452.63 180.13L457.63 180.13L455.13 175.73Z" fill="#ff0000"/>
<path d="M452.6 180.21L457.6 180.21L455.1 175.81Z" fill="#ff0000"/>
<path d="M452.57 180.29L457.57 180.29L455.07 175.89Z" fill="#ff0000"/>
<path d="M452.54 180.36L457.54 180.36L455.04 175.96Z" fill="#ff0000"/>
<path d="M452.51 180.43L457.51 180.43L455.01 176.03Z" fill="#ff0000"/>
<path d="M452.49 180.49L457.49 180.49L454.99 176.09Z" fill="#ff0000"/>
<path d="M452.47 180.55L457.47 180.55L454.97 176.15Z" fill="#ff0000"/>
<path d="M452.44 180.61L457.44 180.61L454.94 176.21Z" fill="#ff0000"/>
<path d="M452.42 180.66L457.42 180.66L454.92 176.26Z" fill="#ff0000"/>
<path d="M452.4 180.72L457.4 180.72L454.9 176.32Z" fill="#ff0000"/>
<path d="M452.38 180.76L457.38 180.76L454.88 176.36Z" fill="#ff0000"/>
<path d="M452.37 180.81L457.37 180.81L454.87 176.41Z" fill="#ff0000"/>
<path d="M452.35 180.85L457.35 180.85L454.85 176.45Z" fill="#ff0000"/>
<path d="M452.33 180.89L457.33 180.89L454.83 176.49Z" fill="#ff0000"/>
<path d="M452.32 180.93L457.32 180.93L454.82 176.53Z" fill="#ff0000"/>
<path d="M452.31 180.96L457.31 180.96L454.81 176.56Z" fill="#ff0000"/>
<path d="M452.29 180.99L457.29 180.99L454.79 176.59Z" fill="#ff0000"/>
<path d="M452.28 181.02L457.28 181.02L454.78 176.62Z" fill="#ff0000"/>
<path d="M452.27 181.05L457.27 181.05L454.77 176.65Z" fill="#ff0000"/>
<circle cx="631.78" cy="137.2" r="2.1" fill="none" stroke="#999" stroke-width="1.45"/>
<circle cx="620.94" cy="137.2" r="2.1" fill="none" stroke="#999" stroke-width="1.45"/>
<circle cx="610.77" cy="136.01" r="2.1" fill="none" stroke="#999" stroke-width="1.45"/>
<circle cx="601.22" cy="135.3" r="2.1" fill="none" stroke="#999" stroke-width="1.45"/>
<circle cx="592.26" cy="135.6" r="2.1" fill="none" stroke="#999" stroke-width="1.45"/>
<circle cx="583.84" cy="134.9" r="2.1" fill="none" stroke="#999" stroke-width="1.45"/>
<circle cx="575.94" cy="135.1" r="2.1" fill="none" stroke="#999" stroke-width="1.45"/>
<circle cx="568.52" cy="135.4" r="2.1" fill="none" stroke="#999" stroke-width="1.45"/>
<circle cx="561.55" cy="136" r="2.1" fill="none" stroke="#999" stroke-width="1.45"/>
<circle cx="555.01" cy="136.69" r="2.1" fill="none" stroke="#999" stroke-width="1.45"/>
<circle cx="548.87" cy="137.8" r="2.1" fill="none" stroke="#999" stroke-width="1.45"/>
<circle cx="543.1" cy="138.25" r="2.1" fill="none" stroke="#999" stroke-width="1.45"/>
<circle cx="537.69" cy="139.43" r="2.1" fill="none" stroke="#999" stroke-width="1.45"/>
<circle cx="532.61" cy="140.83" r="2.1" fill="none" stroke="#999" stroke-width="1.45"/>
<circle cx="527.84" cy="142.44" r="2.1" fill="none" stroke="#999" stroke-width="1.45"/>
<circle cx="523.36" cy="144.22" r="2.1" fill="none" stroke="#999" stroke-width="1.45"/>
<circle cx="519.16" cy="146.1" r="2.1" fill="none" stroke="#999" stroke-width="1.45"/>
<circle cx="515.21" cy="148.04" r="2.1" fill="none" stroke="#999" stroke-width="1.45"/>
<circle cx="511.5" cy="149.99" r="2.1" fill="none" stroke="#999" stroke-width="1.45"/>
<circle cx="508.02" cy="151.92" r="2.1" fill="none" stroke="#999" stroke-width="1.45"/>
<circle cx="504.76" cy="153.8" r="2.1" fill="none" stroke="#999" stroke-width="1.45"/>
<circle cx="501.69" cy="155.63" r="2.1" fill="none" stroke="#999" stroke-width="1.45"/>
<circle cx="498.81" cy="157.38" r="2.1" fill="none" stroke="#999" stroke-width="1.45"/>
<circle cx="496.11" cy="159.05" r="2.1" fill="none" stroke="#999" stroke-width="1.45"/>
<circle cx="493.57" cy="160.63" r="2.1" fill="none" stroke="#999" stroke-width="1.45"/>
<circle cx="491.19" cy="162.12" r="2.1" fill="none" stroke="#999" stroke-width="1.45"/>
<circle cx="488.95" cy="163.51" r="2.1" fill="none" stroke="#999" stroke-width="1.45"/>
<circle cx="486.85" cy="164.8" r="2.1" fill="none" stroke="#999" stroke-width="1.45"/>
<circle cx="484.88" cy="166" r="2.1" fill="none" stroke="#999" stroke-width="1.45"/>
<circle cx="483.02" cy="167.1" r="2.1" fill="none" stroke="#999" stroke-width="1.45"/>
<circle cx="481.29" cy="168.12" r="2.1" fill="none" stroke="#999" stroke-width="1.45"/>
<circle cx="479.65" cy="169.06" r="2.1" fill="none" stroke="#999" stroke-width="1.45"/>
<circle cx="478.12" cy="169.93" r="2.1" fill="none" stroke="#999" stroke-width="1.45"/>
<circle cx="476.68" cy="170.72" r="2.1" fill="none" stroke="#999" stroke-width="1.45"/>
<circle cx="475.33" cy="171.44" r="2.1" fill="none" stroke="#999" stroke-width="1.45"/>
<circle cx="474.07" cy="172.1" r="2.1" fill="none" stroke="#999" stroke-width="1.45"/>
<circle cx="472.88" cy="172.71" r="2.1" fill="none" stroke="#999" stroke-width="1.45"/>
<circle cx="471.76" cy="173.26" r="2.1" fill="none" stroke="#999" stroke-width="1.45"/>
<circle cx="470.71" cy="173.77" r="2.1" fill="none" stroke="#999" stroke-width="1.45"/>
<circle cx="469.72" cy="174.23" r="2.1" fill="none" stroke="#999" stroke-width="1.45"/>
<circle cx="468.8" cy="174.65" r="2.1" fill="none" stroke="#999" stroke-width="1.45"/>
<circle cx="467.93" cy="175.04" r="2.1" fill="none" stroke="#999" stroke-width="1.45"/>
<circle cx="467.12" cy="175.39" r="2.1" fill="none" stroke="#999" stroke-width="1.45"/>
<circle cx="466.35" cy="175.71" r="2.1" fill="none" stroke="#999" stroke-width="1.45"/>
<circle cx="465.63" cy="176" r="2.1" fill="none" stroke="#999" stroke-width="1.45"/>
<circle cx="464.96" cy="176.26" r="2.1" fill="none" stroke="#999" stroke-width="1.45"/>
<circle cx="464.32" cy="176.51" r="2.1" fill="none" stroke="#999" stroke-width="1.45"/>
<circle cx="463.73" cy="176.73" r="2.1" fill="none" stroke="#999" stroke-width="1.45"/>
<circle cx="463.17" cy="176.93" r="2.1" fill="none" stroke="#999" stroke-width="1.45"/>
<circle cx="462.65" cy="177.12" r="2.1" fill="none" stroke="#999" stroke-width="1.45"/>
<circle cx="462.15" cy="177.29" r="2.1" fill="none" stroke="#999" stroke-width="1.45"/>
<circle cx="461.69" cy="177.44" r="2.1" fill="none" stroke="#999" stroke-width="1.45"/>
<circle cx="461.26" cy="177.59" r="2.1" fill="none" stroke="#999" stroke-width="1.45"/>
<circle cx="460.85" cy="177.72" r="2.1" fill="none" stroke="#999" stroke-width="1.45"/>
<circle cx="460.47" cy="177.84" r="2.1" fill="none" stroke="#999" stroke-width="1.45"/>
<circle cx="460.11" cy="177.95" r="2.1" fill="none" stroke="#999" stroke-width="1.45"/>
<circle cx="459.77" cy="178.05" r="2.1" fill="none" stroke="#999" stroke-width="1.45"/>
<circle cx="459.46" cy="178.14" r="2.1" fill="none" stroke="#999" stroke-width="1.45"/>
<circle cx="459.16" cy="178.22" r="2.1" fill="none" stroke="#999" stroke-width="1.45"/>
<circle cx="458.88" cy="178.3" r="2.1" fill="none" stroke="#999" stroke-width="1.45"/>
<circle cx="458.62" cy="178.37" r="2.1" fill="none" stroke="#999" stroke-width="1.45"/>
<circle cx="458.37" cy="178.44" r="2.1" fill="none" stroke="#999" stroke-width="1.45"/>
<circle cx="458.14" cy="178.5" r="2.1" fill="none" stroke="#999" stroke-width="1.45"/>
<circle cx="457.93" cy="178.56" r="2.1" fill="none" stroke="#999" stroke-width="1.45"/>
<circle cx="457.72" cy="178.61" r="2.1" fill="none" stroke="#999" stroke-width="1.45"/>
<circle cx="457.53" cy="178.66" r="2.1" fill="none" stroke="#999" stroke-width="1.45"/>
<circle cx="457.35" cy="178.7" r="2.1" fill="none" stroke="#999" stroke-width="1.45"/>
<circle cx="457.18" cy="178.74" r="2.1" fill="none" stroke="#999" stroke-width="1.45"/>
<circle cx="457.03" cy="178.78" r="2.1" fill="none" stroke="#999" stroke-width="1.45"/>
<circle cx="456.88" cy="178.82" r="2.1" fill="none" stroke="#999" stroke-width="1.45"/>
<circle cx="456.74" cy="178.85" r="2.1" fill="none" stroke="#999" stroke-width="1.45"/>
<circle cx="456.61" cy="178.88" r="2.1" fill="none" stroke="#999" stroke-width="1.45"/>
<circle cx="456.49" cy="178.91" r="2.1" fill="none" stroke="#999" stroke-width="1.45"/>
<circle cx="456.37" cy="178.94" r="2.1" fill="none" stroke="#999" stroke-width="1.45"/>
<circle cx="456.26" cy="178.96" r="2.1" fill="none" stroke="#999" stroke-width="1.45"/>
<circle cx="456.16" cy="178.98" r="2.1" fill="none" stroke="#999" stroke-width="1.45"/>
<circle cx="456.06" cy="179" r="2.1" fill="none" stroke="#999" stroke-width="1.45"/>
<circle cx="455.98" cy="179.02" r="2.1" fill="none" stroke="#999" stroke-width="1.45"/>
<circle cx="455.89" cy="179.04" r="2.1" fill="none" stroke="#999" stroke-width="1.45"/>
<circle cx="455.81" cy="179.06" r="2.1" fill="none" stroke="#999" stroke-width="1.45"/>
<circle cx="455.74" cy="179.07" r="2.1" fill="none" stroke="#999" stroke-width="1.45"/>
<circle cx="455.67" cy="179.09" r="2.1" fill="none" stroke="#999" stroke-width="1.45"/>
<circle cx="455.6" cy="179.1" r="2.1" fill="none" stroke="#999" stroke-width="1.45"/>
<circle cx="455.54" cy="179.11" r="2.1" fill="none" stroke="#999" stroke-width="1.45"/>
<circle cx="455.48" cy="179.13" r="2.1" fill="none" stroke="#999" stroke-width="1.45"/>
<circle cx="455.43" cy="179.14" r="2.1" fill="none" stroke="#999" stroke-width="1.45"/>
<circle cx="455.38" cy="179.15" r="2.1" fill="none" stroke="#999" stroke-width="1.45"/>
<circle cx="455.33" cy="179.16" r="2.1" fill="none" stroke="#999" stroke-width="1.45"/>
<circle cx="455.29" cy="179.17" r="2.1" fill="none" stroke="#999" stroke-width="1.45"/>
<circle cx="455.24" cy="179.18" r="2.1" fill="none" stroke="#999" stroke-width="1.45"/>
<circle cx="455.21" cy="179.18" r="2.1" fill="none" stroke="#999" stroke-width="1.45"/>
<circle cx="455.17" cy="179.19" r="2.1" fill="none" stroke="#999" stroke-width="1.45"/>
<circle cx="455.13" cy="179.2" r="2.1" fill="none" stroke="#999" stroke-width="1.45"/>
<circle cx="455.1" cy="179.2" r="2.1" fill="none" stroke="#999" stroke-width="1.45"/>
<circle cx="455.07" cy="179.21" r="2.1" fill="none" stroke="#999" stroke-width="1.45"/>
<circle cx="455.04" cy="179.22" r="2.1" fill="none" stroke="#999" stroke-width="1.45"/>
<circle cx="455.01" cy="179.22" r="2.1" fill="none" stroke="#999" stroke-width="1.45"/>
<circle cx="454.99" cy="179.23" r="2.1" fill="none" stroke="#999" stroke-width="1.45"/>
<circle cx="454.97" cy="179.23" r="2.1" fill="none" stroke="#999" stroke-width="1.45"/>
<circle cx="454.94" cy="179.24" r="2.1" fill="none" stroke="#999" stroke-width="1.45"/>
<circle cx="454.92" cy="179.24" r="2.1" fill="none" stroke="#999" stroke-width="1.45"/>
<circle cx="454.9" cy="179.24" r="2.1" fill="none" stroke="#999" stroke-width="1.45"/>
<circle cx="454.88" cy="179.25" r="2.1" fill="none" stroke="#999" stroke-width="1.45"/>
<circle cx="454.87" cy="179.25" r="2.1" fill="none" stroke="#999" stroke-width="1.45"/>
<circle cx="454.85" cy="179.25" r="2.1" fill="none" stroke="#999" stroke-width="1.45"/>
<circle cx="454.83" cy="179.26" r="2.1" fill="none" stroke="#999" stroke-width="1.45"/>
<circle cx="454.82" cy="179.26" r="2.1" fill="none" stroke="#999" stroke-width="1.45"/>
<circle cx="454.81" cy="179.26" r="2.1" fill="none" stroke="#999" stroke-width="1.45"/>
<circle cx="454.79" cy="179.26" r="2.1" fill="none" stroke="#999" stroke-width="1.45"/>
<circle cx="454.78" cy="179.27" r="2.1" fill="none" stroke="#999" stroke-width="1.45"/>
<circle cx="454.77" cy="179.27" r="2.1" fill="none" stroke="#999" stroke-width="1.45"/>
<path d="M629.28 146.6L634.28 146.6L631.78 151Z" fill="#0000ff"/>
<path d="M618.44 146.2L623.44 146.2L620.94 150.6Z" fill="#0000ff"/>
<path d="M608.27 144.91L613.27 144.91L610.77 149.31Z" fill="#0000ff"/>
<path d="M598.72 143.6L603.72 143.6L601.22 148Z" fill="#0000ff"/>
<path d="M589.76 143.2L594.76 143.2L592.26 147.6Z" fill="#0000ff"/>
<path d="M581.34 141.7L586.34 141.7L583.84 146.1Z" fill="#0000ff"/>
<path d="M573.44 140.9L578.44 140.9L575.94 145.3Z" fill="#0000ff"/>
<path d="M566.02 140.6L571.02 140.6L568.52 145Z" fill="#0000ff"/>
<path d="M559.05 140.1L564.05 140.1L561.55 144.5Z" fill="#0000ff"/>
<path d="M552.51 139.31L557.51 139.31L555.01 143.71Z" fill="#0000ff"/>
<path d="M546.37 138.7L551.37 138.7L548.87 143.1Z" fill="#0000ff"/>
<path d="M540.6 138.7L545.6 138.7L543.1 143.1Z" fill="#0000ff"/>
<path d="M535.19 138.8L540.19 138.8L537.69 143.2Z" fill="#0000ff"/>
<path d="M530.11 139.02L535.11 139.02L532.61 143.42Z" fill="#0000ff"/>
<path d="M525.34 139.32L530.34 139.32L527.84 143.72Z" fill="#0000ff"/>
<path d="M520.86 139.74L525.86 139.74L523.36 144.14Z" fill="#0000ff"/>
<path d="M516.66 140.26L521.66 140.26L519.16 144.66Z" fill="#0000ff"/>
<path d="M512.71 140.89L517.71 140.89L515.21 145.29Z" fill="#0000ff"/>
<path d="M509 141.59L514 141.59L511.5 145.99Z" fill="#0000ff"/>
<path d="M505.52 142.36L510.52 142.36L508.02 146.76Z" fill="#0000ff"/>
<path d="M502.26 143.19L507.26 143.19L504.76 147.59Z" fill="#0000ff"/>
<path d="M499.19 144.07L504.19 144.07L501.69 148.47Z" fill="#0000ff"/>
<path d="M496.31 144.98L501.31 144.98L498.81 149.38Z" fill="#0000ff"/>
<path d="M493.61 145.92L498.61 145.92L496.11 150.32Z" fill="#0000ff"/>
<path d="M491.07 146.88L496.07 146.88L493.57 151.28Z" fill="#0000ff"/>
<path d="M488.69 147.86L493.69 147.86L491.19 152.26Z" fill="#0000ff"/>
<path d="M486.45 148.84L491.45 148.84L488.95 153.24Z" fill="#0000ff"/>
<path d="M484.35 149.82L489.35 149.82L486.85 154.22Z" fill="#0000ff"/>
<path d="M482.38 150.79L487.38 150.79L484.88 155.19Z" fill="#0000ff"/>
<path d="M480.52 151.76L485.52 151.76L483.02 156.16Z" fill="#0000ff"/>
<path d="M478.79 152.71L483.79 152.71L481.29 157.11Z" fill="#0000ff"/>
<path d="M477.15 153.65L482.15 153.65L479.65 158.05Z" fill="#0000ff"/>
<path d="M475.62 154.56L480.62 154.56L478.12 158.96Z" fill="#0000ff"/>
<path d="M474.18 155.46L479.18 155.46L476.68 159.86Z" fill="#0000ff"/>
<path d="M472.83 156.32L477.83 156.32L475.33 160.72Z" fill="#0000ff"/>
<path d="M471.57 157.17L476.57 157.17L474.07 161.57Z" fill="#0000ff"/>
<path d="M470.38 157.99L475.38 157.99L472.88 162.39Z" fill="#0000ff"/>
<path d="M469.26 158.8L474.26 158.8L471.76 163.2Z" fill="#0000ff"/>
<path d="M468.21 159.59L473.21 159.59L470.71 163.99Z" fill="#0000ff"/>
<path d="M467.22 160.36L472.22 160.36L469.72 164.76Z" fill="#0000ff"/>
<path d="M466.3 161.13L471.3 161.13L468.8 165.53Z" fill="#0000ff"/>
<path d="M465.43 161.88L470.43 161.88L467.93 166.28Z" fill="#0000ff"/>
<path d="M464.62 162.61L469.62 162.61L467.12 167.01Z" fill="#0000ff"/>
<path d="M463.85 163.33L468.85 163.33L466.35 167.73Z" fill="#0000ff"/>
<path d="M463.13 164.03L468.13 164.03L465.63 168.43Z" fill="#0000ff"/>
<path d="M462.46 164.71L467.46 164.71L464.96 169.11Z" fill="#0000ff"/>
<path d="M461.82 165.37L466.82 165.37L464.32 169.77Z" fill="#0000ff"/>
<path d="M461.23 166L466.23 166L463.73 170.4Z" fill="#0000ff"/>
<path d="M460.67 166.6L465.67 166.6L463.17 171Z" fill="#0000ff"/>
<path d="M460.15 167.18L465.15 167.18L462.65 171.58Z" fill="#0000ff"/>
<path d="M459.65 167.73L464.65 167.73L462.15 172.13Z" fill="#0000ff"/>
<path d="M459.19 168.26L464.19 168.26L461.69 172.66Z" fill="#0000ff"/>
<path d="M458.76 168.76L463.76 168.76L461.26 173.16Z" fill="#0000ff"/>
<path d="M458.35 169.24L463.35 169.24L460.85 173.64Z" fill="#0000ff"/>
<path d="M457.97 169.69L462.97 169.69L460.47 174.09Z" fill="#0000ff"/>
<path d="M457.61 170.12L462.61 170.12L460.11 174.52Z" fill="#0000ff"/>
<path d="M457.27 170.53L462.27 170.53L459.77 174.93Z" fill="#0000ff"/>
<path d="M456.96 170.91L461.96 170.91L459.46 175.31Z" fill="#0000ff"/>
<path d="M456.66 171.27L461.66 171.27L459.16 175.67Z" fill="#0000ff"/>
<path d="M456.38 171.62L461.38 171.62L458.88 176.02Z" fill="#0000ff"/>
<path d="M456.12 171.94L461.12 171.94L458.62 176.34Z" fill="#0000ff"/>
<path d="M455.87 172.25L460.87 172.25L458.37 176.65Z" fill="#0000ff"/>
<path d="M455.64 172.53L460.64 172.53L458.14 176.93Z" fill="#0000ff"/>
<path d="M455.43 172.81L460.43 172.81L457.93 177.21Z" fill="#0000ff"/>
<path d="M455.22 173.06L460.22 173.06L457.72 177.46Z" fill="#0000ff"/>
<path d="M455.03 173.3L460.03 173.3L457.53 177.7Z" fill="#0000ff"/>
<path d="M454.85 173.53L459.85 173.53L457.35 177.93Z" fill="#0000ff"/>
<path d="M454.68 173.75L459.68 173.75L457.18 178.15Z" fill="#0000ff"/>
<path d="M454.53 173.95L459.53 173.95L457.03 178.35Z" fill="#0000ff"/>
<path d="M454.38 174.14L459.38 174.14L456.88 178.54Z" fill="#0000ff"/>
<path d="M454.24 174.32L459.24 174.32L456.74 178.72Z" fill="#0000ff"/>
<path d="M454.11 174.48L459.11 174.48L456.61 178.88Z" fill="#0000ff"/>
<path d="M453.99 174.64L458.99 174.64L456.49 179.04Z" fill="#0000ff"/>
<path d="M453.87 174.79L458.87 174.79L456.37 179.19Z" fill="#0000ff"/>
<path d="M453.76 174.93L458.76 174.93L456.26 179.33Z" fill="#0000ff"/>
<path d="M453.66 175.06L458.66 175.06L456.16 179.46Z" fill="#0000ff"/>
<path d="M453.56 175.18L458.56 175.18L456.06 179.58Z" fill="#0000ff"/>
<path d="M453.48 175.3L458.48 175.3L455.98 179.7Z" fill="#0000ff"/>
<path d="M453.39 175.41L458.39 175.41L455.89 179.81Z" fill="#0000ff"/>
<path d="M453.31 175.51L458.31 175.51L455.81 179.91Z" fill="#0000ff"/>
<path d="M453.24 175.61L458.24 175.61L455.74 180.01Z" fill="#0000ff"/>
<path d="M453.17 175.7L458.17 175.7L455.67 180.1Z" fill="#0000ff"/>
<path d="M453.1 175.78L458.1 175.78L455.6 180.18Z" fill="#0000ff"/>
<path d="M453.04 175.86L458.04 175.86L455.54 180.26Z" fill="#0000ff"/>
<path d="M452.98 175.94L457.98 175.94L455.48 180.34Z" fill="#0000ff"/>
<path d="M452.93 176.01L457.93 176.01L455.43 180.41Z" fill="#0000ff"/>
<path d="M452.88 176.08L457.88 176.08L455.38 180.48Z" fill="#0000ff"/>
<path d="M452.83 176.14L457.83 176.14L455.33 180.54Z" fill="#0000ff"/>
<path d="M452.79 176.2L457.79 176.2L455.29 180.6Z" fill="#0000ff"/>
<path d="M452.74 176.25L457.74 176.25L455.24 180.65Z" fill="#0000ff"/>
<path d="M452.71 176.3L457.71 176.3L455.21 180.7Z" fill="#0000ff"/>
<path d="M452.67 176.35L457.67 176.35L455.17 180.75Z" fill="#0000ff"/>
<path d="M452.63 176.4L457.63 176.4L455.13 180.8Z" fill="#0000ff"/>
<path d="M452.6 176.44L457.6 176.44L455.1 180.84Z" fill="#0000ff"/>
<path d="M452.57 176.48L457.57 176.48L455.07 180.88Z" fill="#0000ff"/>
<path d="M452.54 176.52L457.54 176.52L455.04 180.92Z" fill="#0000ff"/>
<path d="M452.51 176.55L457.51 176.55L455.01 180.95Z" fill="#0000ff"/>
<path d="M452.49 176.59L457.49 176.59L454.99 180.99Z" fill="#0000ff"/>
<path d="M452.47 176.62L457.47 176.62L454.97 181.02Z" fill="#0000ff"/>
<path d="M452.44 176.65L457.44 176.65L454.94 181.05Z" fill="#0000ff"/>
<path d="M452.42 176.68L457.42 176.68L454.92 181.08Z" fill="#0000ff"/>
<path d="M452.4 176.7L457.4 176.7L454.9 181.1Z" fill="#0000ff"/>
<path d="M452.38 176.73L457.38 176.73L454.88 181.13Z" fill="#0000ff"/>
<path d="M452.37 176.75L457.37 176.75L454.87 181.15Z" fill="#0000ff"/>
<path d="M452.35 176.77L457.35 176.77L454.85 181.17Z" fill="#0000ff"/>
<path d="M452.33 176.79L457.33 176.79L454.83 181.19Z" fill="#0000ff"/>
<path d="M452.32 176.81L457.32 176.81L454.82 181.21Z" fill="#0000ff"/>
<path d="M452.31 176.83L457.31 176.83L454.81 181.23Z" fill="#0000ff"/>
<path d="M452.29 176.84L457.29 176.84L454.79 181.24Z" fill="#0000ff"/>
<path d="M452.28 176.86L457.28 176.86L454.78 181.26Z" fill="#0000ff"/>
<path d="M452.27 176.87L457.27 176.87L454.77 181.27Z" fill="#0000ff"/>
<rect x="452.47" y="176.37" width="4.6" height="4.6" fill="#00bf00"/>
<rect x="452.48" y="176.35" width="4.6" height="4.6" fill="#00bf00"/>
<rect x="452.48" y="176.33" width="4.6" height="4.6" fill="#00bf00"/>
<rect x="452.49" y="176.31" width="4.6" height="4.6" fill="#00bf00"/>
<rect x="452.49" y="176.29" width="4.6" height="4.6" fill="#00bf00"/>
<rect x="452.5" y="176.27" width="4.6" height="4.6" fill="#00bf00"/>
<rect x="452.51" y="176.24" width="4.6" height="4.6" fill="#00bf00"/>
<rect x="452.51" y="176.22" width="4.6" height="4.6" fill="#00bf00"/>
<rect x="452.52" y="176.19" width="4.6" height="4.6" fill="#00bf00"/>
<rect x="452.53" y="176.17" width="4.6" height="4.6" fill="#00bf00"/>
<rect x="452.53" y="176.14" width="4.6" height="4.6" fill="#00bf00"/>
<rect x="452.54" y="176.11" width="4.6" height="4.6" fill="#00bf00"/>
<rect x="452.55" y="176.08" width="4.6" height="4.6" fill="#00bf00"/>
<rect x="452.56" y="176.05" width="4.6" height="4.6" fill="#00bf00"/>
<rect x="452.57" y="176.02" width="4.6" height="4.6" fill="#00bf00"/>
<rect x="452.58" y="175.99" width="4.6" height="4.6" fill="#00bf00"/>
<rect x="452.58" y="175.96" width="4.6" height="4.6" fill="#00bf00"/>
<rect x="452.59" y="175.93" width="4.6" height="4.6" fill="#00bf00"/>
<rect x="452.6" y="175.89" width="4.6" height="4.6" fill="#00bf00"/>
<rect x="452.61" y="175.86" width="4.6" height="4.6" fill="#00bf00"/>
<rect x="452.62" y="175.82" width="4.6" height="4.6" fill="#00bf00"/>
<rect x="452.63" y="175.78" width="4.6" height="4.6" fill="#00bf00"/>
<rect x="452.64" y="175.74" width="4.6" height="4.6" fill="#00bf00"/>
<rect x="452.65" y="175.7" width="4.6" height="4.6" fill="#00bf00"/>
<rect x="452.67" y="175.66" width="4.6" height="4.6" fill="#00bf00"/>
<rect x="452.68" y="175.62" width="4.6" height="4.6" fill="#00bf00"/>
<rect x="452.69" y="175.57" width="4.6" height="4.6" fill="#00bf00"/>
<rect x="452.7" y="175.52" width="4.6" height="4.6" fill="#00bf00"/>
<rect x="452.71" y="175.48" width="4.6" height="4.6" fill="#00bf00"/>
<rect x="452.73" y="175.43" width="4.6" height="4.6" fill="#00bf00"/>
<rect x="452.74" y="175.38" width="4.6" height="4.6" fill="#00bf00"/>
<rect x="452.76" y="175.32" width="4.6" height="4.6" fill="#00bf00"/>
<rect x="452.77" y="175.27" width="4.6" height="4.6" fill="#00bf00"/>
<rect x="452.79" y="175.21" width="4.6" height="4.6" fill="#00bf00"/>
<rect x="452.8" y="175.16" width="4.6" height="4.6" fill="#00bf00"/>
<rect x="452.82" y="175.1" width="4.6" height="4.6" fill="#00bf00"/>
<rect x="452.83" y="175.03" width="4.6" height="4.6" fill="#00bf00"/>
<rect x="452.85" y="174.97" width="4.6" height="4.6" fill="#00bf00"/>
<rect x="452.87" y="174.9" width="4.6" height="4.6" fill="#00bf00"/>
<rect x="452.89" y="174.84" width="4.6" height="4.6" fill="#00bf00"/>
<rect x="452.91" y="174.77" width="4.6" height="4.6" fill="#00bf00"/>
<rect x="452.93" y="174.69" width="4.6" height="4.6" fill="#00bf00"/>
<rect x="452.94" y="174.62" width="4.6" height="4.6" fill="#00bf00"/>
<rect x="452.97" y="174.54" width="4.6" height="4.6" fill="#00bf00"/>
<rect x="452.99" y="174.46" width="4.6" height="4.6" fill="#00bf00"/>
<rect x="453.01" y="174.38" width="4.6" height="4.6" fill="#00bf00"/>
<rect x="453.03" y="174.29" width="4.6" height="4.6" fill="#00bf00"/>
<rect x="453.06" y="174.2" width="4.6" height="4.6" fill="#00bf00"/>
<rect x="453.08" y="174.11" width="4.6" height="4.6" fill="#00bf00"/>
<rect x="453.1" y="174.02" width="4.6" height="4.6" fill="#00bf00"/>
<rect x="453.13" y="173.92" width="4.6" height="4.6" fill="#00bf00"/>
<rect x="453.16" y="173.82" width="4.6" height="4.6" fill="#00bf00"/>
<rect x="453.18" y="173.72" width="4.6" height="4.6" fill="#00bf00"/>
<rect x="453.21" y="173.61" width="4.6" height="4.6" fill="#00bf00"/>
<rect x="453.24" y="173.5" width="4.6" height="4.6" fill="#00bf00"/>
<rect x="453.27" y="173.38" width="4.6" height="4.6" fill="#00bf00"/>
<rect x="453.3" y="173.27" width="4.6" height="4.6" fill="#00bf00"/>
<rect x="453.34" y="173.14" width="4.6" height="4.6" fill="#00bf00"/>
<rect x="453.37" y="173.02" width="4.6" height="4.6" fill="#00bf00"/>
<rect x="453.4" y="172.89" width="4.6" height="4.6" fill="#00bf00"/>
<rect x="453.44" y="172.75" width="4.6" height="4.6" fill="#00bf00"/>
<rect x="453.47" y="172.61" width="4.6" height="4.6" fill="#00bf00"/>
<rect x="453.51" y="172.47" width="4.6" height="4.6" fill="#00bf00"/>
<rect x="453.55" y="172.32" width="4.6" height="4.6" fill="#00bf00"/>
<rect x="453.59" y="172.17" width="4.6" height="4.6" fill="#00bf00"/>
<rect x="453.63" y="172.01" width="4.6" height="4.6" fill="#00bf00"/>
<rect x="453.68" y="171.85" width="4.6" height="4.6" fill="#00bf00"/>
<rect x="453.72" y="171.67" width="4.6" height="4.6" fill="#00bf00"/>
<rect x="453.76" y="171.5" width="4.6" height="4.6" fill="#00bf00"/>
<rect x="453.81" y="171.32" width="4.6" height="4.6" fill="#00bf00"/>
<rect x="453.86" y="171.14" width="4.6" height="4.6" fill="#00bf00"/>
<rect x="453.91" y="170.94" width="4.6" height="4.6" fill="#00bf00"/>
<rect x="453.96" y="170.75" width="4.6" height="4.6" fill="#00bf00"/>
<rect x="454.02" y="170.54" width="4.6" height="4.6" fill="#00bf00"/>
<rect x="454.07" y="170.33" width="4.6" height="4.6" fill="#00bf00"/>
<rect x="454.13" y="170.11" width="4.6" height="4.6" fill="#00bf00"/>
<rect x="454.19" y="169.89" width="4.6" height="4.6" fill="#00bf00"/>
<rect x="454.25" y="169.65" width="4.6" height="4.6" fill="#00bf00"/>
<rect x="454.31" y="169.42" width="4.6" height="4.6" fill="#00bf00"/>
<rect x="454.37" y="169.16" width="4.6" height="4.6" fill="#00bf00"/>
<rect x="454.44" y="168.91" width="4.6" height="4.6" fill="#00bf00"/>
<rect x="454.51" y="168.64" width="4.6" height="4.6" fill="#00bf00"/>
<rect x="454.58" y="168.38" width="4.6" height="4.6" fill="#00bf00"/>
<rect x="454.65" y="168.09" width="4.6" height="4.6" fill="#00bf00"/>
<rect x="454.73" y="167.81" width="4.6" height="4.6" fill="#00bf00"/>
<rect x="454.81" y="167.51" width="4.6" height="4.6" fill="#00bf00"/>
<rect x="454.88" y="167.2" width="4.6" height="4.6" fill="#00bf00"/>
<rect x="454.97" y="166.88" width="4.6" height="4.6" fill="#00bf00"/>
<rect x="455.05" y="166.56" width="4.6" height="4.6" fill="#00bf00"/>
<rect x="455.14" y="166.22" width="4.6" height="4.6" fill="#00bf00"/>
<rect x="455.23" y="165.88" width="4.6" height="4.6" fill="#00bf00"/>
<rect x="455.33" y="165.52" width="4.6" height="4.6" fill="#00bf00"/>
<rect x="455.42" y="165.16" width="4.6" height="4.6" fill="#00bf00"/>
<rect x="455.52" y="164.78" width="4.6" height="4.6" fill="#00bf00"/>
<rect x="455.63" y="164.4" width="4.6" height="4.6" fill="#00bf00"/>
<rect x="455.73" y="164" width="4.6" height="4.6" fill="#00bf00"/>
<rect x="455.84" y="163.6" width="4.6" height="4.6" fill="#00bf00"/>
<rect x="455.96" y="163.18" width="4.6" height="4.6" fill="#00bf00"/>
<rect x="456.07" y="162.76" width="4.6" height="4.6" fill="#00bf00"/>
<rect x="456.2" y="162.31" width="4.6" height="4.6" fill="#00bf00"/>
<rect x="456.32" y="161.87" width="4.6" height="4.6" fill="#00bf00"/>
<rect x="456.45" y="161.41" width="4.6" height="4.6" fill="#00bf00"/>
<rect x="456.58" y="160.95" width="4.6" height="4.6" fill="#00bf00"/>
<rect x="456.72" y="160.46" width="4.6" height="4.6" fill="#00bf00"/>
<rect x="456.86" y="159.98" width="4.6" height="4.6" fill="#00bf00"/>
<rect x="457.01" y="159.48" width="4.6" height="4.6" fill="#00bf00"/>
<rect x="457.16" y="158.98" width="4.6" height="4.6" fill="#00bf00"/>
<rect x="457.32" y="158.46" width="4.6" height="4.6" fill="#00bf00"/>
<rect x="457.47" y="157.95" width="4.6" height="4.6" fill="#00bf00"/>
<rect x="457.64" y="157.42" width="4.6" height="4.6" fill="#00bf00"/>
<rect x="457.81" y="156.9" width="4.6" height="4.6" fill="#00bf00"/>
<rect x="457.99" y="156.36" width="4.6" height="4.6" fill="#00bf00"/>
<rect x="458.17" y="155.83" width="4.6" height="4.6" fill="#00bf00"/>
<rect x="458.36" y="155.28" width="4.6" height="4.6" fill="#00bf00"/>
<rect x="458.55" y="154.75" width="4.6" height="4.6" fill="#00bf00"/>
<rect x="458.76" y="154.2" width="4.6" height="4.6" fill="#00bf00"/>
<rect x="458.96" y="153.67" width="4.6" height="4.6" fill="#00bf00"/>
<rect x="459.18" y="153.11" width="4.6" height="4.6" fill="#00bf00"/>
<rect x="459.39" y="152.58" width="4.6" height="4.6" fill="#00bf00"/>
<rect x="459.62" y="152.02" width="4.6" height="4.6" fill="#00bf00"/>
<rect x="459.85" y="151.48" width="4.6" height="4.6" fill="#00bf00"/>
<rect x="460.1" y="150.92" width="4.6" height="4.6" fill="#00bf00"/>
<rect x="460.35" y="150.38" width="4.6" height="4.6" fill="#00bf00"/>
<rect x="460.61" y="149.81" width="4.6" height="4.6" fill="#00bf00"/>
<rect x="460.87" y="149.26" width="4.6" height="4.6" fill="#00bf00"/>
<rect x="461.15" y="148.69" width="4.6" height="4.6" fill="#00bf00"/>
<rect x="461.43" y="148.13" width="4.6" height="4.6" fill="#00bf00"/>
<rect x="461.73" y="147.55" width="4.6" height="4.6" fill="#00bf00"/>
<rect x="462.02" y="146.98" width="4.6" height="4.6" fill="#00bf00"/>
<rect x="462.34" y="146.37" width="4.6" height="4.6" fill="#00bf00"/>
<rect x="462.66" y="145.78" width="4.6" height="4.6" fill="#00bf00"/>
<rect x="462.99" y="145.16" width="4.6" height="4.6" fill="#00bf00"/>
<rect x="463.33" y="144.55" width="4.6" height="4.6" fill="#00bf00"/>
<rect x="463.69" y="143.92" width="4.6" height="4.6" fill="#00bf00"/>
<rect x="464.05" y="143.29" width="4.6" height="4.6" fill="#00bf00"/>
<rect x="464.43" y="142.64" width="4.6" height="4.6" fill="#00bf00"/>
<rect x="464.82" y="142" width="4.6" height="4.6" fill="#00bf00"/>
<rect x="465.22" y="141.34" width="4.6" height="4.6" fill="#00bf00"/>
<rect x="465.63" y="140.69" width="4.6" height="4.6" fill="#00bf00"/>
<rect x="466.06" y="140.02" width="4.6" height="4.6" fill="#00bf00"/>
<rect x="466.5" y="139.36" width="4.6" height="4.6" fill="#00bf00"/>
<rect x="466.96" y="138.68" width="4.6" height="4.6" fill="#00bf00"/>
<rect x="467.42" y="138.02" width="4.6" height="4.6" fill="#00bf00"/>
<rect x="467.92" y="137.34" width="4.6" height="4.6" fill="#00bf00"/>
<rect x="468.41" y="136.68" width="4.6" height="4.6" fill="#00bf00"/>
<rect x="468.93" y="136" width="4.6" height="4.6" fill="#00bf00"/>
<rect x="469.46" y="135.35" width="4.6" height="4.6" fill="#00bf00"/>
<rect x="470.02" y="134.69" width="4.6" height="4.6" fill="#00bf00"/>
<rect x="470.58" y="134.05" width="4.6" height="4.6" fill="#00bf00"/>
<rect x="471.17" y="133.4" width="4.6" height="4.6" fill="#00bf00"/>
<rect x="471.77" y="132.78" width="4.6" height="4.6" fill="#00bf00"/>
<rect x="472.4" y="132.16" width="4.6" height="4.6" fill="#00bf00"/>
<rect x="473.03" y="131.57" width="4.6" height="4.6" fill="#00bf00"/>
<rect x="473.71" y="130.98" width="4.6" height="4.6" fill="#00bf00"/>
<rect x="474.38" y="130.44" width="4.6" height="4.6" fill="#00bf00"/>
<rect x="475.1" y="129.89" width="4.6" height="4.6" fill="#00bf00"/>
<rect x="475.82" y="129.39" width="4.6" height="4.6" fill="#00bf00"/>
<rect x="476.59" y="128.89" width="4.6" height="4.6" fill="#00bf00"/>
<rect x="477.35" y="128.44" width="4.6" height="4.6" fill="#00bf00"/>
<rect x="478.17" y="127.99" width="4.6" height="4.6" fill="#00bf00"/>
<rect x="478.99" y="127.57" width="4.6" height="4.6" fill="#00bf00"/>
<rect x="479.86" y="127.17" width="4.6" height="4.6" fill="#00bf00"/>
<rect x="480.72" y="126.8" width="4.6" height="4.6" fill="#00bf00"/>
<rect x="481.65" y="126.43" width="4.6" height="4.6" fill="#00bf00"/>
<rect x="482.58" y="126.09" width="4.6" height="4.6" fill="#00bf00"/>
<rect x="483.56" y="125.76" width="4.6" height="4.6" fill="#00bf00"/>
<rect x="484.55" y="125.46" width="4.6" height="4.6" fill="#00bf00"/>
<rect x="485.6" y="125.17" width="4.6" height="4.6" fill="#00bf00"/>
<rect x="486.65" y="124.92" width="4.6" height="4.6" fill="#00bf00"/>
<rect x="487.77" y="124.68" width="4.6" height="4.6" fill="#00bf00"/>
<rect x="488.89" y="124.47" width="4.6" height="4.6" fill="#00bf00"/>
<rect x="490.08" y="124.29" width="4.6" height="4.6" fill="#00bf00"/>
<rect x="491.27" y="124.15" width="4.6" height="4.6" fill="#00bf00"/>
<rect x="492.54" y="124.04" width="4.6" height="4.6" fill="#00bf00"/>
<rect x="493.81" y="123.96" width="4.6" height="4.6" fill="#00bf00"/>
<rect x="495.16" y="123.93" width="4.6" height="4.6" fill="#00bf00"/>
<rect x="496.51" y="123.93" width="4.6" height="4.6" fill="#00bf00"/>
<rect x="497.95" y="123.98" width="4.6" height="4.6" fill="#00bf00"/>
<rect x="499.39" y="124.07" width="4.6" height="4.6" fill="#00bf00"/>
<rect x="500.92" y="124.22" width="4.6" height="4.6" fill="#00bf00"/>
<rect x="502.46" y="124.41" width="4.6" height="4.6" fill="#00bf00"/>
<rect x="504.09" y="124.66" width="4.6" height="4.6" fill="#00bf00"/>
<rect x="505.72" y="124.96" width="4.6" height="4.6" fill="#00bf00"/>
<rect x="507.46" y="125.32" width="4.6" height="4.6" fill="#00bf00"/>
<rect x="509.2" y="125.73" width="4.6" height="4.6" fill="#00bf00"/>
<rect x="511.06" y="126.21" width="4.6" height="4.6" fill="#00bf00"/>
<rect x="512.91" y="126.74" width="4.6" height="4.6" fill="#00bf00"/>
<rect x="516.86" y="127.99" width="4.6" height="4.6" fill="#00bf00"/>
<rect x="521.06" y="129.47" width="4.6" height="4.6" fill="#00bf00"/>
<rect x="525.54" y="131.18" width="4.6" height="4.6" fill="#00bf00"/>
<rect x="530.31" y="132.8" width="4.6" height="4.6" fill="#00bf00"/>
<rect x="535.39" y="134.94" width="4.6" height="4.6" fill="#00bf00"/>
<rect x="540.8" y="137.38" width="4.6" height="4.6" fill="#00bf00"/>
<rect x="546.57" y="139.52" width="4.6" height="4.6" fill="#00bf00"/>
<rect x="552.71" y="141.64" width="4.6" height="4.6" fill="#00bf00"/>
<rect x="559.25" y="143.72" width="4.6" height="4.6" fill="#00bf00"/>
<rect x="566.22" y="145.9" width="4.6" height="4.6" fill="#00bf00"/>
<rect x="573.64" y="148.01" width="4.6" height="4.6" fill="#00bf00"/>
<rect x="581.54" y="150.41" width="4.6" height="4.6" fill="#00bf00"/>
<rect x="589.96" y="152.79" width="4.6" height="4.6" fill="#00bf00"/>
<rect x="598.92" y="154.6" width="4.6" height="4.6" fill="#00bf00"/>
<rect x="608.47" y="156.71" width="4.6" height="4.6" fill="#00bf00"/>
<rect x="618.64" y="158.69" width="4.6" height="4.6" fill="#00bf00"/>
<rect x="629.48" y="160.12" width="4.6" height="4.6" fill="#00bf00"/>
<circle cx="454.77" cy="178.66" r="2.3" fill="#000"/>
<circle cx="454.78" cy="178.64" r="2.3" fill="#000"/>
<circle cx="454.78" cy="178.62" r="2.3" fill="#000"/>
<circle cx="454.79" cy="178.6" r="2.3" fill="#000"/>
<circle cx="454.79" cy="178.58" r="2.3" fill="#000"/>
<circle cx="454.8" cy="178.55" r="2.3" fill="#000"/>
<circle cx="454.81" cy="178.53" r="2.3" fill="#000"/>
<circle cx="454.81" cy="178.5" r="2.3" fill="#000"/>
<circle cx="454.82" cy="178.48" r="2.3" fill="#000"/>
<circle cx="454.83" cy="178.45" r="2.3" fill="#000"/>
<circle cx="454.83" cy="178.42" r="2.3" fill="#000"/>
<circle cx="454.84" cy="178.4" r="2.3" fill="#000"/>
<circle cx="454.85" cy="178.37" r="2.3" fill="#000"/>
<circle cx="454.86" cy="178.34" r="2.3" fill="#000"/>
<circle cx="454.87" cy="178.31" r="2.3" fill="#000"/>
<circle cx="454.88" cy="178.27" r="2.3" fill="#000"/>
<circle cx="454.88" cy="178.24" r="2.3" fill="#000"/>
<circle cx="454.89" cy="178.2" r="2.3" fill="#000"/>
<circle cx="454.9" cy="178.17" r="2.3" fill="#000"/>
<circle cx="454.91" cy="178.13" r="2.3" fill="#000"/>
<circle cx="454.92" cy="178.09" r="2.3" fill="#000"/>
<circle cx="454.93" cy="178.05" r="2.3" fill="#000"/>
<circle cx="454.94" cy="178.01" r="2.3" fill="#000"/>
<circle cx="454.95" cy="177.97" r="2.3" fill="#000"/>
<circle cx="454.97" cy="177.93" r="2.3" fill="#000"/>
<circle cx="454.98" cy="177.88" r="2.3" fill="#000"/>
<circle cx="454.99" cy="177.84" r="2.3" fill="#000"/>
<circle cx="455" cy="177.79" r="2.3" fill="#000"/>
<circle cx="455.01" cy="177.74" r="2.3" fill="#000"/>
<circle cx="455.03" cy="177.69" r="2.3" fill="#000"/>
<circle cx="455.04" cy="177.63" r="2.3" fill="#000"/>
<circle cx="455.06" cy="177.58" r="2.3" fill="#000"/>
<circle cx="455.07" cy="177.52" r="2.3" fill="#000"/>
<circle cx="455.09" cy="177.46" r="2.3" fill="#000"/>
<circle cx="455.1" cy="177.4" r="2.3" fill="#000"/>
<circle cx="455.12" cy="177.34" r="2.3" fill="#000"/>
<circle cx="455.13" cy="177.27" r="2.3" fill="#000"/>
<circle cx="455.15" cy="177.21" r="2.3" fill="#000"/>
<circle cx="455.17" cy="177.14" r="2.3" fill="#000"/>
<circle cx="455.19" cy="177.06" r="2.3" fill="#000"/>
<circle cx="455.21" cy="176.99" r="2.3" fill="#000"/>
<circle cx="455.23" cy="176.91" r="2.3" fill="#000"/>
<circle cx="455.24" cy="176.83" r="2.3" fill="#000"/>
<circle cx="455.27" cy="176.75" r="2.3" fill="#000"/>
<circle cx="455.29" cy="176.67" r="2.3" fill="#000"/>
<circle cx="455.31" cy="176.58" r="2.3" fill="#000"/>
<circle cx="455.33" cy="176.49" r="2.3" fill="#000"/>
<circle cx="455.36" cy="176.39" r="2.3" fill="#000"/>
<circle cx="455.38" cy="176.3" r="2.3" fill="#000"/>
<circle cx="455.4" cy="176.19" r="2.3" fill="#000"/>
<circle cx="455.43" cy="176.09" r="2.3" fill="#000"/>
<circle cx="455.46" cy="175.98" r="2.3" fill="#000"/>
<circle cx="455.48" cy="175.87" r="2.3" fill="#000"/>
<circle cx="455.51" cy="175.75" r="2.3" fill="#000"/>
<circle cx="455.54" cy="175.63" r="2.3" fill="#000"/>
<circle cx="455.57" cy="175.51" r="2.3" fill="#000"/>
<circle cx="455.6" cy="175.38" r="2.3" fill="#000"/>
<circle cx="455.64" cy="175.24" r="2.3" fill="#000"/>
<circle cx="455.67" cy="175.11" r="2.3" fill="#000"/>
<circle cx="455.7" cy="174.96" r="2.3" fill="#000"/>
<circle cx="455.74" cy="174.82" r="2.3" fill="#000"/>
<circle cx="455.77" cy="174.66" r="2.3" fill="#000"/>
<circle cx="455.81" cy="174.51" r="2.3" fill="#000"/>
<circle cx="455.85" cy="174.34" r="2.3" fill="#000"/>
<circle cx="455.89" cy="174.17" r="2.3" fill="#000"/>
<circle cx="455.93" cy="173.99" r="2.3" fill="#000"/>
<circle cx="455.98" cy="173.81" r="2.3" fill="#000"/>
<circle cx="456.02" cy="173.62" r="2.3" fill="#000"/>
<circle cx="456.06" cy="173.42" r="2.3" fill="#000"/>
<circle cx="456.11" cy="173.22" r="2.3" fill="#000"/>
<circle cx="456.16" cy="173.01" r="2.3" fill="#000"/>
<circle cx="456.21" cy="172.79" r="2.3" fill="#000"/>
<circle cx="456.26" cy="172.57" r="2.3" fill="#000"/>
<circle cx="456.32" cy="172.33" r="2.3" fill="#000"/>
<circle cx="456.37" cy="172.09" r="2.3" fill="#000"/>
<circle cx="456.43" cy="171.83" r="2.3" fill="#000"/>
<circle cx="456.49" cy="171.57" r="2.3" fill="#000"/>
<circle cx="456.55" cy="171.3" r="2.3" fill="#000"/>
<circle cx="456.61" cy="171.02" r="2.3" fill="#000"/>
<circle cx="456.67" cy="170.73" r="2.3" fill="#000"/>
<circle cx="456.74" cy="170.43" r="2.3" fill="#000"/>
<circle cx="456.81" cy="170.11" r="2.3" fill="#000"/>
<circle cx="456.88" cy="169.79" r="2.3" fill="#000"/>
<circle cx="456.95" cy="169.45" r="2.3" fill="#000"/>
<circle cx="457.03" cy="169.11" r="2.3" fill="#000"/>
<circle cx="457.11" cy="168.74" r="2.3" fill="#000"/>
<circle cx="457.18" cy="168.37" r="2.3" fill="#000"/>
<circle cx="457.27" cy="167.98" r="2.3" fill="#000"/>
<circle cx="457.35" cy="167.58" r="2.3" fill="#000"/>
<circle cx="457.44" cy="167.16" r="2.3" fill="#000"/>
<circle cx="457.53" cy="166.73" r="2.3" fill="#000"/>
<circle cx="457.63" cy="166.28" r="2.3" fill="#000"/>
<circle cx="457.72" cy="165.82" r="2.3" fill="#000"/>
<circle cx="457.82" cy="165.33" r="2.3" fill="#000"/>
<circle cx="457.93" cy="164.84" r="2.3" fill="#000"/>
<circle cx="458.03" cy="164.32" r="2.3" fill="#000"/>
<circle cx="458.14" cy="163.79" r="2.3" fill="#000"/>
<circle cx="458.26" cy="163.23" r="2.3" fill="#000"/>
<circle cx="458.37" cy="162.67" r="2.3" fill="#000"/>
<circle cx="458.5" cy="162.06" r="2.3" fill="#000"/>
<circle cx="458.62" cy="161.46" r="2.3" fill="#000"/>
<circle cx="458.75" cy="160.81" r="2.3" fill="#000"/>
<circle cx="458.88" cy="160.17" r="2.3" fill="#000"/>
<circle cx="459.02" cy="159.48" r="2.3" fill="#000"/>
<circle cx="459.16" cy="158.79" r="2.3" fill="#000"/>
<circle cx="459.31" cy="158.05" r="2.3" fill="#000"/>
<circle cx="459.46" cy="157.31" r="2.3" fill="#000"/>
<circle cx="459.62" cy="156.53" r="2.3" fill="#000"/>
<circle cx="459.77" cy="155.75" r="2.3" fill="#000"/>
<circle cx="459.94" cy="154.91" r="2.3" fill="#000"/>
<circle cx="460.11" cy="154.08" r="2.3" fill="#000"/>
<circle cx="460.29" cy="153.19" r="2.3" fill="#000"/>
<circle cx="460.47" cy="152.31" r="2.3" fill="#000"/>
<circle cx="460.66" cy="151.38" r="2.3" fill="#000"/>
<circle cx="460.85" cy="150.44" r="2.3" fill="#000"/>
<circle cx="461.06" cy="149.46" r="2.3" fill="#000"/>
<circle cx="461.26" cy="148.48" r="2.3" fill="#000"/>
<circle cx="461.48" cy="147.45" r="2.3" fill="#000"/>
<circle cx="461.69" cy="146.43" r="2.3" fill="#000"/>
<circle cx="461.92" cy="145.35" r="2.3" fill="#000"/>
<circle cx="462.15" cy="144.29" r="2.3" fill="#000"/>
<circle cx="462.4" cy="143.17" r="2.3" fill="#000"/>
<circle cx="462.65" cy="142.08" r="2.3" fill="#000"/>
<circle cx="462.91" cy="140.94" r="2.3" fill="#000"/>
<circle cx="463.17" cy="139.82" r="2.3" fill="#000"/>
<circle cx="463.45" cy="138.65" r="2.3" fill="#000"/>
<circle cx="463.73" cy="137.51" r="2.3" fill="#000"/>
<circle cx="464.03" cy="136.32" r="2.3" fill="#000"/>
<circle cx="464.32" cy="135.16" r="2.3" fill="#000"/>
<circle cx="464.64" cy="133.94" r="2.3" fill="#000"/>
<circle cx="464.96" cy="132.76" r="2.3" fill="#000"/>
<circle cx="465.29" cy="131.52" r="2.3" fill="#000"/>
<circle cx="465.63" cy="130.31" r="2.3" fill="#000"/>
<circle cx="465.99" cy="129.05" r="2.3" fill="#000"/>
<circle cx="466.35" cy="127.82" r="2.3" fill="#000"/>
<circle cx="466.73" cy="126.53" r="2.3" fill="#000"/>
<circle cx="467.12" cy="125.27" r="2.3" fill="#000"/>
<circle cx="467.52" cy="123.96" r="2.3" fill="#000"/>
<circle cx="467.93" cy="122.67" r="2.3" fill="#000"/>
<circle cx="468.36" cy="121.34" r="2.3" fill="#000"/>
<circle cx="468.8" cy="120.03" r="2.3" fill="#000"/>
<circle cx="469.26" cy="118.67" r="2.3" fill="#000"/>
<circle cx="469.72" cy="117.34" r="2.3" fill="#000"/>
<circle cx="470.22" cy="115.96" r="2.3" fill="#000"/>
<circle cx="470.71" cy="114.6" r="2.3" fill="#000"/>
<circle cx="471.23" cy="113.19" r="2.3" fill="#000"/>
<circle cx="471.76" cy="111.81" r="2.3" fill="#000"/>
<circle cx="472.32" cy="110.36" r="2.3" fill="#000"/>
<circle cx="472.88" cy="108.95" r="2.3" fill="#000"/>
<circle cx="473.47" cy="107.47" r="2.3" fill="#000"/>
<circle cx="474.07" cy="106.03" r="2.3" fill="#000"/>
<circle cx="474.7" cy="104.52" r="2.3" fill="#000"/>
<circle cx="475.33" cy="103.05" r="2.3" fill="#000"/>
<circle cx="476.01" cy="101.53" r="2.3" fill="#000"/>
<circle cx="476.68" cy="100.04" r="2.3" fill="#000"/>
<circle cx="477.4" cy="98.5" r="2.3" fill="#000"/>
<circle cx="478.12" cy="97" r="2.3" fill="#000"/>
<circle cx="478.89" cy="95.46" r="2.3" fill="#000"/>
<circle cx="479.65" cy="93.96" r="2.3" fill="#000"/>
<circle cx="480.47" cy="92.41" r="2.3" fill="#000"/>
<circle cx="481.29" cy="90.92" r="2.3" fill="#000"/>
<circle cx="482.16" cy="89.38" r="2.3" fill="#000"/>
<circle cx="483.02" cy="87.9" r="2.3" fill="#000"/>
<circle cx="483.95" cy="86.39" r="2.3" fill="#000"/>
<circle cx="484.88" cy="84.94" r="2.3" fill="#000"/>
<circle cx="485.86" cy="83.47" r="2.3" fill="#000"/>
<circle cx="486.85" cy="82.06" r="2.3" fill="#000"/>
<circle cx="487.9" cy="80.64" r="2.3" fill="#000"/>
<circle cx="488.95" cy="79.28" r="2.3" fill="#000"/>
<circle cx="490.07" cy="77.92" r="2.3" fill="#000"/>
<circle cx="491.19" cy="76.64" r="2.3" fill="#000"/>
<circle cx="492.38" cy="75.36" r="2.3" fill="#000"/>
<circle cx="493.57" cy="74.17" r="2.3" fill="#000"/>
<circle cx="494.84" cy="72.98" r="2.3" fill="#000"/>
<circle cx="496.11" cy="71.88" r="2.3" fill="#000"/>
<circle cx="497.46" cy="70.81" r="2.3" fill="#000"/>
<circle cx="498.81" cy="69.82" r="2.3" fill="#000"/>
<circle cx="501.69" cy="67.98" r="2.3" fill="#000"/>
<circle cx="504.76" cy="66.38" r="2.3" fill="#000"/>
<circle cx="508.02" cy="65.02" r="2.3" fill="#000"/>
<circle cx="511.5" cy="64.2" r="2.3" fill="#000"/>
<circle cx="515.21" cy="62.87" r="2.3" fill="#000"/>
<circle cx="519.16" cy="61.99" r="2.3" fill="#000"/>
<circle cx="523.36" cy="61.39" r="2.3" fill="#000"/>
<circle cx="527.84" cy="60.8" r="2.3" fill="#000"/>
<circle cx="532.61" cy="60.8" r="2.3" fill="#000"/>
<circle cx="537.69" cy="61.41" r="2.3" fill="#000"/>
<circle cx="543.1" cy="62.53" r="2.3" fill="#000"/>
<circle cx="548.87" cy="63.31" r="2.3" fill="#000"/>
<circle cx="555.01" cy="64.42" r="2.3" fill="#000"/>
<circle cx="561.55" cy="66.11" r="2.3" fill="#000"/>
<circle cx="568.52" cy="68.2" r="2.3" fill="#000"/>
<circle cx="575.94" cy="70.31" r="2.3" fill="#000"/>
<circle cx="583.84" cy="73.32" r="2.3" fill="#000"/>
<circle cx="592.26" cy="78.09" r="2.3" fill="#000"/>
<circle cx="601.22" cy="79.4" r="2.3" fill="#000"/>
<circle cx="610.77" cy="83.83" r="2.3" fill="#000"/>
<circle cx="620.94" cy="88.49" r="2.3" fill="#000"/>
<circle cx="631.78" cy="90.2" r="2.3" fill="#000"/>
<circle cx="292.8" cy="36.2" r="2.3" fill="#000"/>
<rect x="290.5" y="53.6" width="4.6" height="4.6" fill="#00bf00"/>
<path d="M290.3 73.5L295.3 73.5L292.8 77.9Z" fill="#0000ff"/>
<circle cx="292.8" cy="95.5" r="2.1" fill="none" stroke="#999" stroke-width="1.45"/>
<path d="M290.3 117.1L295.3 117.1L292.8 112.7Z" fill="#ff0000"/>
<text x="310.2" y="40.4" font-size="12" font-weight="normal" text-anchor="start" fill="#1a1a1a" stroke="#1a1a1a" stroke-width="0.25" >Total</text>
<text x="310.2" y="60.1" font-size="12" font-weight="normal" text-anchor="start" fill="#1a1a1a" stroke="#1a1a1a" stroke-width="0.25" >Trues</text>
<text x="310.2" y="79.9" font-size="12" font-weight="normal" text-anchor="start" fill="#1a1a1a" stroke="#1a1a1a" stroke-width="0.25" >Scatter</text>
<text x="310.2" y="99.7" font-size="12" font-weight="normal" text-anchor="start" fill="#1a1a1a" stroke="#1a1a1a" stroke-width="0.25" >Randoms</text>
<text x="310.2" y="119.1" font-size="12" font-weight="normal" text-anchor="start" fill="#1a1a1a" stroke="#1a1a1a" stroke-width="0.25" >NEC</text>
<text x="220.2" y="256" font-size="19.5" font-weight="bold" text-anchor="start" fill="#000" stroke="#000" stroke-width="0.3" >C)</text>
<text x="424.2" y="248" font-size="14.3" font-weight="bold" text-anchor="middle" fill="#000" stroke="#000" stroke-width="0.3" >NEC rat</text>
<path d="M313.8 267.7V414.7H534.9" fill="none" stroke="#000" stroke-width="1.4"/>
<path d="M307.5 414.7H313.8" stroke="#000" stroke-width="1.4"/>
<text x="304.8" y="419" font-size="11" font-weight="bold" text-anchor="end" fill="#000" stroke="#000" stroke-width="0.3" >0</text>
<path d="M307.5 385.3H313.8" stroke="#000" stroke-width="1.4"/>
<text x="304.8" y="389.6" font-size="11" font-weight="bold" text-anchor="end" fill="#000" stroke="#000" stroke-width="0.3" >50000</text>
<path d="M307.5 355.9H313.8" stroke="#000" stroke-width="1.4"/>
<text x="304.8" y="360.2" font-size="11" font-weight="bold" text-anchor="end" fill="#000" stroke="#000" stroke-width="0.3" >100000</text>
<path d="M307.5 326.5H313.8" stroke="#000" stroke-width="1.4"/>
<text x="304.8" y="330.8" font-size="11" font-weight="bold" text-anchor="end" fill="#000" stroke="#000" stroke-width="0.3" >150000</text>
<path d="M307.5 297.1H313.8" stroke="#000" stroke-width="1.4"/>
<text x="304.8" y="301.4" font-size="11" font-weight="bold" text-anchor="end" fill="#000" stroke="#000" stroke-width="0.3" >200000</text>
<path d="M307.5 267.7H313.8" stroke="#000" stroke-width="1.4"/>
<text x="304.8" y="272" font-size="11" font-weight="bold" text-anchor="end" fill="#000" stroke="#000" stroke-width="0.3" >250000</text>
<path d="M313.8 414.7V420.9" stroke="#000" stroke-width="1.4"/>
<text x="313.8" y="433.1" font-size="11" font-weight="bold" text-anchor="middle" fill="#000" stroke="#000" stroke-width="0.3" >0</text>
<path d="M358.02 414.7V420.9" stroke="#000" stroke-width="1.4"/>
<text x="358.02" y="433.1" font-size="11" font-weight="bold" text-anchor="middle" fill="#000" stroke="#000" stroke-width="0.3" >10</text>
<path d="M402.24 414.7V420.9" stroke="#000" stroke-width="1.4"/>
<text x="402.24" y="433.1" font-size="11" font-weight="bold" text-anchor="middle" fill="#000" stroke="#000" stroke-width="0.3" >20</text>
<path d="M446.46 414.7V420.9" stroke="#000" stroke-width="1.4"/>
<text x="446.46" y="433.1" font-size="11" font-weight="bold" text-anchor="middle" fill="#000" stroke="#000" stroke-width="0.3" >30</text>
<path d="M490.68 414.7V420.9" stroke="#000" stroke-width="1.4"/>
<text x="490.68" y="433.1" font-size="11" font-weight="bold" text-anchor="middle" fill="#000" stroke="#000" stroke-width="0.3" >40</text>
<path d="M534.9 414.7V420.9" stroke="#000" stroke-width="1.4"/>
<text x="534.9" y="433.1" font-size="11" font-weight="bold" text-anchor="middle" fill="#000" stroke="#000" stroke-width="0.3" >50</text>
<text x="424.2" y="451.6" font-size="12.35" font-weight="bold" text-anchor="middle" fill="#000" stroke="#000" stroke-width="0.3" >Activity (MBq)</text>
<text transform="translate(260.9 340.3) rotate(-90)" font-size="11.8" letter-spacing="0.4" font-weight="bold" text-anchor="middle" stroke="#000" stroke-width="0.3" xml:space="preserve">Counts  (cps)</text>
<path d="M313.8 414.7L314.91 411.16L316.02 407.42L317.14 403.22L318.25 399.6L319.36 396.64L320.47 393.99L321.58 391.54L322.7 389.22L323.81 386.92L324.92 384.57L326.03 382.16L327.15 379.78L328.26 377.43L329.37 375.11L330.48 372.83L331.59 370.58L332.71 368.38L333.82 366.22L334.93 364.1L336.04 362.02L337.15 359.96L338.27 357.93L339.38 355.92L340.49 353.93L341.6 351.95L342.72 349.97L343.83 347.98L344.94 346L346.05 344.05L347.16 342.16L348.28 340.34L349.39 338.61L350.5 337.01L351.61 335.46L352.72 333.9L353.84 332.31L354.95 330.76L356.06 329.31L357.17 327.94L358.29 326.66L359.4 325.5L360.51 324.45L361.62 323.45L362.73 322.46L363.85 321.44L364.96 320.42L366.07 319.43L367.18 318.46L368.29 317.5L369.41 316.57L370.52 315.66L371.63 314.76L372.74 313.88L373.86 313.06L374.97 312.3L376.08 311.58L377.19 310.88L378.3 310.18L379.42 309.49L380.53 308.81L381.64 308.12L382.75 307.4L383.86 306.6L384.98 305.8L386.09 305.08L387.2 304.51L388.31 304.02L389.43 303.58L390.54 303.16L391.65 302.74L392.76 302.33L393.87 301.93L394.99 301.54L396.1 301.15L397.21 300.75L398.32 300.32L399.43 299.89L400.55 299.47L401.66 299.09L402.77 298.77L403.88 298.5L404.99 298.26L406.11 298.03L407.22 297.8L408.33 297.55L409.44 297.26L410.56 296.96L411.67 296.67L412.78 296.4L413.89 296.18L415 296.02L416.12 295.87L417.23 295.73L418.34 295.61L419.45 295.53L420.56 295.5L421.68 295.5L422.79 295.5L423.9 295.5L425.01 295.5L426.13 295.5L427.24 295.5L428.35 295.49L429.46 295.45L430.57 295.4L431.69 295.34L432.8 295.28L433.91 295.23L435.02 295.2L436.13 295.21L437.25 295.26L438.36 295.34L439.47 295.45L440.58 295.57L441.7 295.7L442.81 295.83L443.92 295.96L445.03 296.1L446.14 296.26L447.26 296.42L448.37 296.6L449.48 296.78L450.59 296.97L451.7 297.15L452.82 297.34L453.93 297.54L455.04 297.74L456.15 297.94L457.27 298.15L458.38 298.36L459.49 298.56L460.6 298.76L461.71 298.96L462.83 299.15L463.94 299.34L465.05 299.52L466.16 299.71L467.27 299.9L468.39 300.1L469.5 300.3L470.61 300.52L471.72 300.76L472.84 301L473.95 301.26L475.06 301.53L476.17 301.8L477.28 302.08L478.4 302.35L479.51 302.63L480.62 302.89L481.73 303.15L482.84 303.4L483.96 303.65L485.07 303.88L486.18 304.12L487.29 304.36L488.4 304.6L489.52 304.85L490.63 305.1L491.74 305.36L492.85 305.64L493.97 305.93L495.08 306.23L496.19 306.54L497.3 306.86L498.41 307.19L499.53 307.52L500.64 307.85L501.75 308.19L502.86 308.53L503.97 308.87L505.09 309.21L506.2 309.55L507.31 309.9L508.42 310.25L509.54 310.61L510.65 310.97L511.76 311.32L512.87 311.68L513.98 312.04L515.1 312.39L516.21 312.74L517.32 313.09L518.43 313.43L519.54 313.78L520.66 314.13L521.77 314.47L522.88 314.81L523.99 315.16L525.11 315.5L526.22 315.84L527.33 316.18L528.44 316.52L529.55 316.86L530.67 317.2L531.78 317.54L532.89 317.88L534 318.22L535.11 318.55L536.23 318.89" fill="none" stroke="#ff0000" stroke-width="1"/>
<path d="M311.83 414.83L317.13 414.83L314.48 410.33Z" fill="#ff0000"/>
<path d="M311.85 414.74L317.15 414.74L314.5 410.24Z" fill="#ff0000"/>
<path d="M311.88 414.65L317.18 414.65L314.53 410.15Z" fill="#ff0000"/>
<path d="M311.91 414.56L317.21 414.56L314.56 410.06Z" fill="#ff0000"/>
<path d="M311.94 414.46L317.24 414.46L314.59 409.96Z" fill="#ff0000"/>
<path d="M311.97 414.36L317.27 414.36L314.62 409.86Z" fill="#ff0000"/>
<path d="M312 414.25L317.3 414.25L314.65 409.75Z" fill="#ff0000"/>
<path d="M312.04 414.14L317.34 414.14L314.69 409.64Z" fill="#ff0000"/>
<path d="M312.07 414.03L317.37 414.03L314.72 409.53Z" fill="#ff0000"/>
<path d="M312.11 413.91L317.41 413.91L314.76 409.41Z" fill="#ff0000"/>
<path d="M312.15 413.79L317.45 413.79L314.8 409.29Z" fill="#ff0000"/>
<path d="M312.19 413.65L317.49 413.65L314.84 409.15Z" fill="#ff0000"/>
<path d="M312.23 413.52L317.53 413.52L314.88 409.02Z" fill="#ff0000"/>
<path d="M312.27 413.38L317.57 413.38L314.92 408.88Z" fill="#ff0000"/>
<path d="M312.32 413.24L317.62 413.24L314.97 408.74Z" fill="#ff0000"/>
<path d="M312.36 413.08L317.66 413.08L315.01 408.58Z" fill="#ff0000"/>
<path d="M312.41 412.92L317.71 412.92L315.06 408.42Z" fill="#ff0000"/>
<path d="M312.46 412.76L317.76 412.76L315.11 408.26Z" fill="#ff0000"/>
<path d="M312.51 412.59L317.81 412.59L315.16 408.09Z" fill="#ff0000"/>
<path d="M312.57 412.4L317.87 412.4L315.22 407.9Z" fill="#ff0000"/>
<path d="M312.62 412.22L317.92 412.22L315.27 407.72Z" fill="#ff0000"/>
<path d="M312.68 412.02L317.98 412.02L315.33 407.52Z" fill="#ff0000"/>
<path d="M312.74 411.82L318.04 411.82L315.39 407.32Z" fill="#ff0000"/>
<path d="M312.81 411.6L318.11 411.6L315.46 407.1Z" fill="#ff0000"/>
<path d="M312.87 411.38L318.17 411.38L315.52 406.88Z" fill="#ff0000"/>
<path d="M312.94 411.15L318.24 411.15L315.59 406.65Z" fill="#ff0000"/>
<path d="M313.01 410.91L318.31 410.91L315.66 406.41Z" fill="#ff0000"/>
<path d="M313.09 410.65L318.39 410.65L315.74 406.15Z" fill="#ff0000"/>
<path d="M313.16 410.4L318.46 410.4L315.81 405.9Z" fill="#ff0000"/>
<path d="M313.24 410.12L318.54 410.12L315.89 405.62Z" fill="#ff0000"/>
<path d="M313.32 409.84L318.62 409.84L315.97 405.34Z" fill="#ff0000"/>
<path d="M313.41 409.53L318.71 409.53L316.06 405.03Z" fill="#ff0000"/>
<path d="M313.5 409.22L318.8 409.22L316.15 404.72Z" fill="#ff0000"/>
<path d="M313.6 408.87L318.9 408.87L316.25 404.37Z" fill="#ff0000"/>
<path d="M313.69 408.52L318.99 408.52L316.34 404.02Z" fill="#ff0000"/>
<path d="M313.79 408.13L319.09 408.13L316.44 403.63Z" fill="#ff0000"/>
<path d="M313.9 407.73L319.2 407.73L316.55 403.23Z" fill="#ff0000"/>
<path d="M314.01 407.3L319.31 407.3L316.66 402.8Z" fill="#ff0000"/>
<path d="M314.12 406.87L319.42 406.87L316.77 402.37Z" fill="#ff0000"/>
<path d="M314.24 406.41L319.54 406.41L316.89 401.91Z" fill="#ff0000"/>
<path d="M314.36 405.94L319.66 405.94L317.01 401.44Z" fill="#ff0000"/>
<path d="M314.49 405.45L319.79 405.45L317.14 400.95Z" fill="#ff0000"/>
<path d="M314.62 404.96L319.92 404.96L317.27 400.46Z" fill="#ff0000"/>
<path d="M314.76 404.45L320.06 404.45L317.41 399.95Z" fill="#ff0000"/>
<path d="M314.9 403.96L320.2 403.96L317.55 399.46Z" fill="#ff0000"/>
<path d="M315.06 403.45L320.36 403.45L317.71 398.95Z" fill="#ff0000"/>
<path d="M315.21 402.98L320.51 402.98L317.86 398.48Z" fill="#ff0000"/>
<path d="M315.37 402.49L320.67 402.49L318.02 397.99Z" fill="#ff0000"/>
<path d="M315.54 402.02L320.84 402.02L318.19 397.52Z" fill="#ff0000"/>
<path d="M315.71 401.52L321.01 401.52L318.36 397.02Z" fill="#ff0000"/>
<path d="M315.89 401.03L321.19 401.03L318.54 396.53Z" fill="#ff0000"/>
<path d="M316.08 400.51L321.38 400.51L318.73 396.01Z" fill="#ff0000"/>
<path d="M316.28 400.01L321.58 400.01L318.93 395.51Z" fill="#ff0000"/>
<path d="M316.48 399.47L321.78 399.47L319.13 394.97Z" fill="#ff0000"/>
<path d="M316.69 398.94L321.99 398.94L319.34 394.44Z" fill="#ff0000"/>
<path d="M316.92 398.38L322.22 398.38L319.57 393.88Z" fill="#ff0000"/>
<path d="M317.14 397.83L322.44 397.83L319.79 393.33Z" fill="#ff0000"/>
<path d="M317.38 397.25L322.68 397.25L320.03 392.75Z" fill="#ff0000"/>
<path d="M317.63 396.69L322.93 396.69L320.28 392.19Z" fill="#ff0000"/>
<path d="M317.89 396.08L323.19 396.08L320.54 391.58Z" fill="#ff0000"/>
<path d="M318.15 395.49L323.45 395.49L320.8 390.99Z" fill="#ff0000"/>
<path d="M318.44 394.87L323.74 394.87L321.09 390.37Z" fill="#ff0000"/>
<path d="M318.72 394.25L324.02 394.25L321.37 389.75Z" fill="#ff0000"/>
<path d="M319.03 393.59L324.33 393.59L321.68 389.09Z" fill="#ff0000"/>
<path d="M319.33 392.95L324.63 392.95L321.98 388.45Z" fill="#ff0000"/>
<path d="M319.67 392.25L324.97 392.25L322.32 387.75Z" fill="#ff0000"/>
<path d="M320 391.57L325.3 391.57L322.65 387.07Z" fill="#ff0000"/>
<path d="M320.36 390.83L325.66 390.83L323.01 386.33Z" fill="#ff0000"/>
<path d="M320.72 390.09L326.02 390.09L323.37 385.59Z" fill="#ff0000"/>
<path d="M321.1 389.29L326.4 389.29L323.75 384.79Z" fill="#ff0000"/>
<path d="M321.49 388.48L326.79 388.48L324.14 383.98Z" fill="#ff0000"/>
<path d="M321.91 387.6L327.21 387.6L324.56 383.1Z" fill="#ff0000"/>
<path d="M322.33 386.69L327.63 386.69L324.98 382.19Z" fill="#ff0000"/>
<path d="M322.78 385.71L328.08 385.71L325.43 381.21Z" fill="#ff0000"/>
<path d="M323.24 384.73L328.54 384.73L325.89 380.23Z" fill="#ff0000"/>
<path d="M323.73 383.68L329.03 383.68L326.38 379.18Z" fill="#ff0000"/>
<path d="M324.22 382.63L329.52 382.63L326.87 378.13Z" fill="#ff0000"/>
<path d="M324.75 381.5L330.05 381.5L327.4 377Z" fill="#ff0000"/>
<path d="M325.28 380.38L330.58 380.38L327.93 375.88Z" fill="#ff0000"/>
<path d="M325.85 379.17L331.15 379.17L328.5 374.67Z" fill="#ff0000"/>
<path d="M326.42 377.98L331.72 377.98L329.07 373.48Z" fill="#ff0000"/>
<path d="M327.04 376.7L332.34 376.7L329.69 372.2Z" fill="#ff0000"/>
<path d="M327.66 375.43L332.96 375.43L330.31 370.93Z" fill="#ff0000"/>
<path d="M328.33 374.07L333.63 374.07L330.98 369.57Z" fill="#ff0000"/>
<path d="M329 372.73L334.3 372.73L331.65 368.23Z" fill="#ff0000"/>
<path d="M329.72 371.29L335.02 371.29L332.37 366.79Z" fill="#ff0000"/>
<path d="M330.44 369.87L335.74 369.87L333.09 365.37Z" fill="#ff0000"/>
<path d="M331.23 368.36L336.53 368.36L333.88 363.86Z" fill="#ff0000"/>
<path d="M332.01 366.86L337.31 366.86L334.66 362.36Z" fill="#ff0000"/>
<path d="M332.85 365.27L338.15 365.27L335.5 360.77Z" fill="#ff0000"/>
<path d="M333.7 363.69L339 363.69L336.35 359.19Z" fill="#ff0000"/>
<path d="M334.61 362.01L339.91 362.01L337.26 357.51Z" fill="#ff0000"/>
<path d="M335.53 360.34L340.83 360.34L338.18 355.84Z" fill="#ff0000"/>
<path d="M336.52 358.56L341.82 358.56L339.17 354.06Z" fill="#ff0000"/>
<path d="M337.51 356.78L342.81 356.78L340.16 352.28Z" fill="#ff0000"/>
<path d="M338.57 354.88L343.87 354.88L341.22 350.38Z" fill="#ff0000"/>
<path d="M339.64 352.97L344.94 352.97L342.29 348.47Z" fill="#ff0000"/>
<path d="M340.8 350.91L346.1 350.91L343.45 346.41Z" fill="#ff0000"/>
<path d="M341.95 348.84L347.25 348.84L344.6 344.34Z" fill="#ff0000"/>
<path d="M343.2 346.65L348.5 346.65L345.85 342.15Z" fill="#ff0000"/>
<path d="M344.45 344.52L349.75 344.52L347.1 340.02Z" fill="#ff0000"/>
<path d="M345.8 342.31L351.1 342.31L348.45 337.81Z" fill="#ff0000"/>
<path d="M347.15 340.25L352.45 340.25L349.8 335.75Z" fill="#ff0000"/>
<path d="M348.65 338.14L353.95 338.14L351.3 333.64Z" fill="#ff0000"/>
<path d="M350.15 336.04L355.45 336.04L352.8 331.54Z" fill="#ff0000"/>
<path d="M353.35 331.64L358.65 331.64L356 327.14Z" fill="#ff0000"/>
<path d="M356.55 327.94L361.85 327.94L359.2 323.44Z" fill="#ff0000"/>
<path d="M360.15 324.65L365.45 324.65L362.8 320.15Z" fill="#ff0000"/>
<path d="M363.45 321.65L368.75 321.65L366.1 317.15Z" fill="#ff0000"/>
<path d="M367.45 318.25L372.75 318.25L370.1 313.75Z" fill="#ff0000"/>
<path d="M371.15 315.35L376.45 315.35L373.8 310.85Z" fill="#ff0000"/>
<path d="M375.15 312.75L380.45 312.75L377.8 308.25Z" fill="#ff0000"/>
<path d="M379.35 310.14L384.65 310.14L382 305.64Z" fill="#ff0000"/>
<path d="M383.75 307.16L389.05 307.16L386.4 302.66Z" fill="#ff0000"/>
<path d="M388.65 305.13L393.95 305.13L391.3 300.63Z" fill="#ff0000"/>
<path d="M394.15 303.15L399.45 303.15L396.8 298.65Z" fill="#ff0000"/>
<path d="M399.55 301.18L404.85 301.18L402.2 296.68Z" fill="#ff0000"/>
<path d="M405.25 299.9L410.55 299.9L407.9 295.4Z" fill="#ff0000"/>
<path d="M411.55 298.38L416.85 298.38L414.2 293.88Z" fill="#ff0000"/>
<path d="M417.85 297.75L423.15 297.75L420.5 293.25Z" fill="#ff0000"/>
<path d="M424.75 297.75L430.05 297.75L427.4 293.25Z" fill="#ff0000"/>
<path d="M432.55 297.45L437.85 297.45L435.2 292.95Z" fill="#ff0000"/>
<path d="M440.55 298.13L445.85 298.13L443.2 293.63Z" fill="#ff0000"/>
<path d="M448.85 299.37L454.15 299.37L451.5 294.87Z" fill="#ff0000"/>
<path d="M458.15 301.05L463.45 301.05L460.8 296.55Z" fill="#ff0000"/>
<path d="M467.95 302.77L473.25 302.77L470.6 298.27Z" fill="#ff0000"/>
<path d="M478.85 305.35L484.15 305.35L481.5 300.85Z" fill="#ff0000"/>
<path d="M490.05 307.85L495.35 307.85L492.7 303.35Z" fill="#ff0000"/>
<path d="M501.75 311.25L507.05 311.25L504.4 306.75Z" fill="#ff0000"/>
<path d="M513.95 315.11L519.25 315.11L516.6 310.61Z" fill="#ff0000"/>
<path d="M529.65 319.95L534.95 319.95L532.3 315.45Z" fill="#ff0000"/>
<path d="M313.8 414.7L314.91 410.9L316.02 407.28L317.14 403.92L318.25 400.89L319.36 398.12L320.47 395.53L321.58 393.08L322.7 390.72L323.81 388.4L324.92 386.07L326.03 383.72L327.15 381.41L328.26 379.13L329.37 376.88L330.48 374.67L331.59 372.5L332.71 370.37L333.82 368.27L334.93 366.19L336.04 364.14L337.15 362.12L338.27 360.14L339.38 358.19L340.49 356.28L341.6 354.42L342.72 352.6L343.83 350.79L344.94 349.02L346.05 347.3L347.16 345.65L348.28 344.07L349.39 342.6L350.5 341.27L351.61 340L352.72 338.68L353.84 337.3L354.95 335.94L356.06 334.71L357.17 333.59L358.29 332.51L359.4 331.4L360.51 330.26L361.62 329.15L362.73 328.12L363.85 327.17L364.96 326.26L366.07 325.33L367.18 324.35L368.29 323.36L369.41 322.39L370.52 321.44L371.63 320.49L372.74 319.6L373.86 318.78L374.97 318.01L376.08 317.28L377.19 316.54L378.3 315.78L379.42 315.01L380.53 314.27L381.64 313.6L382.75 313L383.86 312.43L384.98 311.88L386.09 311.36L387.2 310.85L388.31 310.35L389.43 309.88L390.54 309.42L391.65 309L392.76 308.6L393.87 308.2L394.99 307.82L396.1 307.43L397.21 307.03L398.32 306.62L399.43 306.22L400.55 305.86L401.66 305.55L402.77 305.27L403.88 305.01L404.99 304.76L406.11 304.51L407.22 304.25L408.33 303.98L409.44 303.7L410.56 303.43L411.67 303.18L412.78 302.96L413.89 302.76L415 302.58L416.12 302.41L417.23 302.25L418.34 302.11L419.45 302L420.56 301.91L421.68 301.81L422.79 301.73L423.9 301.66L425.01 301.61L426.13 301.6L427.24 301.6L428.35 301.6L429.46 301.6L430.57 301.6L431.69 301.6L432.8 301.6L433.91 301.6L435.02 301.62L436.13 301.66L437.25 301.72L438.36 301.79L439.47 301.86L440.58 301.94L441.7 302.01L442.81 302.1L443.92 302.21L445.03 302.32L446.14 302.45L447.26 302.59L448.37 302.73L449.48 302.87L450.59 303.02L451.7 303.17L452.82 303.33L453.93 303.5L455.04 303.67L456.15 303.85L457.27 304.04L458.38 304.23L459.49 304.43L460.6 304.64L461.71 304.88L462.83 305.12L463.94 305.36L465.05 305.6L466.16 305.83L467.27 306.04L468.39 306.23L469.5 306.39L470.61 306.54L471.72 306.68L472.84 306.81L473.95 306.94L475.06 307.07L476.17 307.22L477.28 307.37L478.4 307.55L479.51 307.74L480.62 307.95L481.73 308.17L482.84 308.41L483.96 308.65L485.07 308.9L486.18 309.16L487.29 309.42L488.4 309.68L489.52 309.95L490.63 310.22L491.74 310.5L492.85 310.79L493.97 311.08L495.08 311.38L496.19 311.68L497.3 311.98L498.41 312.29L499.53 312.59L500.64 312.89L501.75 313.19L502.86 313.5L503.97 313.8L505.09 314.11L506.2 314.42L507.31 314.73L508.42 315.04L509.54 315.35L510.65 315.66L511.76 315.97L512.87 316.27L513.98 316.58L515.1 316.89L516.21 317.19L517.32 317.5L518.43 317.81L519.54 318.11L520.66 318.42L521.77 318.72L522.88 319.03L523.99 319.33L525.11 319.64L526.22 319.94L527.33 320.25L528.44 320.55L529.55 320.85L530.67 321.16L531.78 321.46L532.89 321.77L534 322.07L535.11 322.37L536.23 322.68" fill="none" stroke="#000" stroke-width="1"/>
<rect x="312.26" y="409.99" width="4.5" height="4.5" fill="#000"/>
<rect x="312.29" y="409.89" width="4.5" height="4.5" fill="#000"/>
<rect x="312.32" y="409.8" width="4.5" height="4.5" fill="#000"/>
<rect x="312.35" y="409.69" width="4.5" height="4.5" fill="#000"/>
<rect x="312.38" y="409.58" width="4.5" height="4.5" fill="#000"/>
<rect x="312.42" y="409.47" width="4.5" height="4.5" fill="#000"/>
<rect x="312.45" y="409.35" width="4.5" height="4.5" fill="#000"/>
<rect x="312.49" y="409.23" width="4.5" height="4.5" fill="#000"/>
<rect x="312.53" y="409.11" width="4.5" height="4.5" fill="#000"/>
<rect x="312.56" y="408.97" width="4.5" height="4.5" fill="#000"/>
<rect x="312.6" y="408.84" width="4.5" height="4.5" fill="#000"/>
<rect x="312.65" y="408.7" width="4.5" height="4.5" fill="#000"/>
<rect x="312.69" y="408.55" width="4.5" height="4.5" fill="#000"/>
<rect x="312.74" y="408.4" width="4.5" height="4.5" fill="#000"/>
<rect x="312.78" y="408.25" width="4.5" height="4.5" fill="#000"/>
<rect x="312.83" y="408.08" width="4.5" height="4.5" fill="#000"/>
<rect x="312.88" y="407.91" width="4.5" height="4.5" fill="#000"/>
<rect x="312.94" y="407.74" width="4.5" height="4.5" fill="#000"/>
<rect x="312.99" y="407.56" width="4.5" height="4.5" fill="#000"/>
<rect x="313.05" y="407.37" width="4.5" height="4.5" fill="#000"/>
<rect x="313.11" y="407.17" width="4.5" height="4.5" fill="#000"/>
<rect x="313.17" y="406.97" width="4.5" height="4.5" fill="#000"/>
<rect x="313.23" y="406.76" width="4.5" height="4.5" fill="#000"/>
<rect x="313.3" y="406.54" width="4.5" height="4.5" fill="#000"/>
<rect x="313.37" y="406.32" width="4.5" height="4.5" fill="#000"/>
<rect x="313.44" y="406.08" width="4.5" height="4.5" fill="#000"/>
<rect x="313.52" y="405.84" width="4.5" height="4.5" fill="#000"/>
<rect x="313.6" y="405.59" width="4.5" height="4.5" fill="#000"/>
<rect x="313.68" y="405.34" width="4.5" height="4.5" fill="#000"/>
<rect x="313.76" y="405.06" width="4.5" height="4.5" fill="#000"/>
<rect x="313.85" y="404.79" width="4.5" height="4.5" fill="#000"/>
<rect x="313.94" y="404.5" width="4.5" height="4.5" fill="#000"/>
<rect x="314.04" y="404.21" width="4.5" height="4.5" fill="#000"/>
<rect x="314.14" y="403.9" width="4.5" height="4.5" fill="#000"/>
<rect x="314.24" y="403.59" width="4.5" height="4.5" fill="#000"/>
<rect x="314.35" y="403.26" width="4.5" height="4.5" fill="#000"/>
<rect x="314.45" y="402.94" width="4.5" height="4.5" fill="#000"/>
<rect x="314.57" y="402.58" width="4.5" height="4.5" fill="#000"/>
<rect x="314.69" y="402.24" width="4.5" height="4.5" fill="#000"/>
<rect x="314.82" y="401.87" width="4.5" height="4.5" fill="#000"/>
<rect x="314.94" y="401.5" width="4.5" height="4.5" fill="#000"/>
<rect x="315.08" y="401.11" width="4.5" height="4.5" fill="#000"/>
<rect x="315.22" y="400.72" width="4.5" height="4.5" fill="#000"/>
<rect x="315.37" y="400.31" width="4.5" height="4.5" fill="#000"/>
<rect x="315.52" y="399.9" width="4.5" height="4.5" fill="#000"/>
<rect x="315.68" y="399.47" width="4.5" height="4.5" fill="#000"/>
<rect x="315.84" y="399.05" width="4.5" height="4.5" fill="#000"/>
<rect x="316.01" y="398.6" width="4.5" height="4.5" fill="#000"/>
<rect x="316.19" y="398.15" width="4.5" height="4.5" fill="#000"/>
<rect x="316.37" y="397.68" width="4.5" height="4.5" fill="#000"/>
<rect x="316.56" y="397.2" width="4.5" height="4.5" fill="#000"/>
<rect x="316.77" y="396.7" width="4.5" height="4.5" fill="#000"/>
<rect x="316.97" y="396.21" width="4.5" height="4.5" fill="#000"/>
<rect x="317.19" y="395.68" width="4.5" height="4.5" fill="#000"/>
<rect x="317.41" y="395.16" width="4.5" height="4.5" fill="#000"/>
<rect x="317.65" y="394.6" width="4.5" height="4.5" fill="#000"/>
<rect x="317.88" y="394.05" width="4.5" height="4.5" fill="#000"/>
<rect x="318.14" y="393.47" width="4.5" height="4.5" fill="#000"/>
<rect x="318.4" y="392.89" width="4.5" height="4.5" fill="#000"/>
<rect x="318.67" y="392.27" width="4.5" height="4.5" fill="#000"/>
<rect x="318.95" y="391.66" width="4.5" height="4.5" fill="#000"/>
<rect x="319.25" y="391.01" width="4.5" height="4.5" fill="#000"/>
<rect x="319.55" y="390.37" width="4.5" height="4.5" fill="#000"/>
<rect x="319.88" y="389.68" width="4.5" height="4.5" fill="#000"/>
<rect x="320.2" y="388.99" width="4.5" height="4.5" fill="#000"/>
<rect x="320.55" y="388.25" width="4.5" height="4.5" fill="#000"/>
<rect x="320.9" y="387.52" width="4.5" height="4.5" fill="#000"/>
<rect x="321.28" y="386.73" width="4.5" height="4.5" fill="#000"/>
<rect x="321.66" y="385.94" width="4.5" height="4.5" fill="#000"/>
<rect x="322.07" y="385.08" width="4.5" height="4.5" fill="#000"/>
<rect x="322.48" y="384.22" width="4.5" height="4.5" fill="#000"/>
<rect x="322.92" y="383.28" width="4.5" height="4.5" fill="#000"/>
<rect x="323.37" y="382.34" width="4.5" height="4.5" fill="#000"/>
<rect x="323.85" y="381.34" width="4.5" height="4.5" fill="#000"/>
<rect x="324.33" y="380.34" width="4.5" height="4.5" fill="#000"/>
<rect x="324.84" y="379.26" width="4.5" height="4.5" fill="#000"/>
<rect x="325.36" y="378.2" width="4.5" height="4.5" fill="#000"/>
<rect x="325.92" y="377.05" width="4.5" height="4.5" fill="#000"/>
<rect x="326.48" y="375.92" width="4.5" height="4.5" fill="#000"/>
<rect x="327.09" y="374.7" width="4.5" height="4.5" fill="#000"/>
<rect x="327.69" y="373.49" width="4.5" height="4.5" fill="#000"/>
<rect x="328.35" y="372.2" width="4.5" height="4.5" fill="#000"/>
<rect x="329" y="370.92" width="4.5" height="4.5" fill="#000"/>
<rect x="329.71" y="369.55" width="4.5" height="4.5" fill="#000"/>
<rect x="330.42" y="368.19" width="4.5" height="4.5" fill="#000"/>
<rect x="331.18" y="366.75" width="4.5" height="4.5" fill="#000"/>
<rect x="331.95" y="365.31" width="4.5" height="4.5" fill="#000"/>
<rect x="332.77" y="363.77" width="4.5" height="4.5" fill="#000"/>
<rect x="333.6" y="362.24" width="4.5" height="4.5" fill="#000"/>
<rect x="334.49" y="360.61" width="4.5" height="4.5" fill="#000"/>
<rect x="335.39" y="359" width="4.5" height="4.5" fill="#000"/>
<rect x="336.35" y="357.29" width="4.5" height="4.5" fill="#000"/>
<rect x="337.32" y="355.61" width="4.5" height="4.5" fill="#000"/>
<rect x="338.36" y="353.82" width="4.5" height="4.5" fill="#000"/>
<rect x="339.41" y="352.08" width="4.5" height="4.5" fill="#000"/>
<rect x="340.54" y="350.23" width="4.5" height="4.5" fill="#000"/>
<rect x="341.67" y="348.4" width="4.5" height="4.5" fill="#000"/>
<rect x="342.89" y="346.46" width="4.5" height="4.5" fill="#000"/>
<rect x="344.11" y="344.58" width="4.5" height="4.5" fill="#000"/>
<rect x="345.43" y="342.65" width="4.5" height="4.5" fill="#000"/>
<rect x="346.75" y="340.85" width="4.5" height="4.5" fill="#000"/>
<rect x="348.4" y="338.85" width="4.5" height="4.5" fill="#000"/>
<rect x="350.05" y="336.95" width="4.5" height="4.5" fill="#000"/>
<rect x="351.7" y="334.91" width="4.5" height="4.5" fill="#000"/>
<rect x="353.35" y="332.95" width="4.5" height="4.5" fill="#000"/>
<rect x="355" y="331.26" width="4.5" height="4.5" fill="#000"/>
<rect x="356.65" y="329.65" width="4.5" height="4.5" fill="#000"/>
<rect x="358.3" y="327.97" width="4.5" height="4.5" fill="#000"/>
<rect x="359.95" y="326.35" width="4.5" height="4.5" fill="#000"/>
<rect x="361.9" y="324.67" width="4.5" height="4.5" fill="#000"/>
<rect x="363.85" y="323.05" width="4.5" height="4.5" fill="#000"/>
<rect x="367.15" y="320.15" width="4.5" height="4.5" fill="#000"/>
<rect x="370.75" y="317.15" width="4.5" height="4.5" fill="#000"/>
<rect x="375.15" y="314.15" width="4.5" height="4.5" fill="#000"/>
<rect x="379.05" y="311.55" width="4.5" height="4.5" fill="#000"/>
<rect x="383.75" y="309.15" width="4.5" height="4.5" fill="#000"/>
<rect x="388.35" y="307.15" width="4.5" height="4.5" fill="#000"/>
<rect x="393.65" y="305.25" width="4.5" height="4.5" fill="#000"/>
<rect x="398.85" y="303.45" width="4.5" height="4.5" fill="#000"/>
<rect x="404.45" y="302.13" width="4.5" height="4.5" fill="#000"/>
<rect x="410.85" y="300.65" width="4.5" height="4.5" fill="#000"/>
<rect x="417.25" y="299.75" width="4.5" height="4.5" fill="#000"/>
<rect x="423.75" y="299.35" width="4.5" height="4.5" fill="#000"/>
<rect x="431.15" y="299.35" width="4.5" height="4.5" fill="#000"/>
<rect x="439.25" y="299.75" width="4.5" height="4.5" fill="#000"/>
<rect x="447.45" y="300.65" width="4.5" height="4.5" fill="#000"/>
<rect x="456.55" y="302.05" width="4.5" height="4.5" fill="#000"/>
<rect x="465.95" y="303.95" width="4.5" height="4.5" fill="#000"/>
<rect x="475.85" y="305.25" width="4.5" height="4.5" fill="#000"/>
<rect x="486.65" y="307.55" width="4.5" height="4.5" fill="#000"/>
<rect x="498.05" y="310.55" width="4.5" height="4.5" fill="#000"/>
<rect x="510.35" y="313.95" width="4.5" height="4.5" fill="#000"/>
<rect x="523.45" y="317.55" width="4.5" height="4.5" fill="#000"/>
<path d="M448 385.6H463.8" stroke="#ff0000" stroke-width="1"/>
<path d="M453.7 388.3L458.5 388.3L456.1 383.9Z" fill="#ff0000"/>
<path d="M448 403.6H463.8" stroke="#000" stroke-width="1"/>
<rect x="454" y="401.1" width="4.6" height="4.6" fill="#000"/>
<text x="473.2" y="389.9" font-size="10.2" font-weight="normal" text-anchor="start" fill="#111" stroke="#111" stroke-width="0.25" >NEC Quad86</text>
<text x="473.2" y="407.1" font-size="10.2" font-weight="normal" text-anchor="start" fill="#111" stroke="#111" stroke-width="0.25" >NEC Quad72</text>
</svg>
</div></body></html>
